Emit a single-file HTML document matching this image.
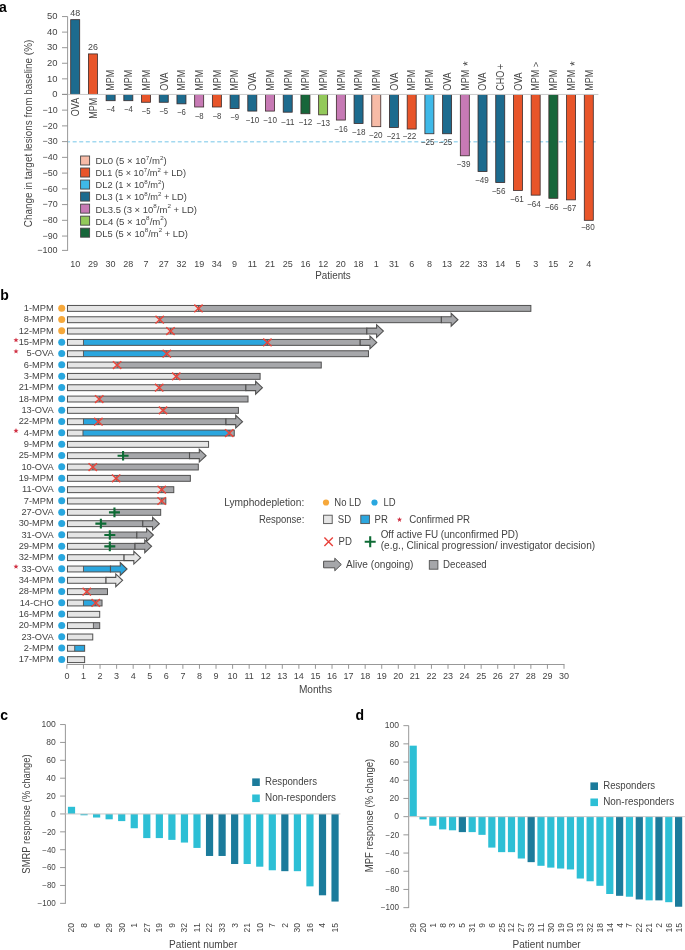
<!DOCTYPE html>
<html><head><meta charset="utf-8"><style>
html,body{margin:0;padding:0;background:#fff;}
body{width:685px;height:950px;overflow:hidden;}
svg{display:block;font-family:"Liberation Sans", sans-serif;will-change:transform;}
</style></head><body>
<svg width="685" height="950" viewBox="0 0 685 950">
<rect x="0" y="0" width="685" height="950" fill="#fff"/>
<text x="-1.00" y="11.60" font-size="14" text-anchor="start" fill="#000" font-weight="bold">a</text>
<text x="31.70" y="133.45" font-size="10.2" text-anchor="middle" fill="#444444" font-weight="normal" transform="rotate(-90 31.7 133.45)" textLength="187.5" lengthAdjust="spacingAndGlyphs">Change in target lesions from baseline (%)</text>
<line x1="62" y1="16.55" x2="67.6" y2="16.55" stroke="#8c8c8c" stroke-width="0.9"/>
<text x="57.60" y="19.25" font-size="9" text-anchor="end" fill="#444444" font-weight="normal" textLength="10.50" lengthAdjust="spacingAndGlyphs">50</text>
<line x1="62" y1="32.12" x2="67.6" y2="32.12" stroke="#8c8c8c" stroke-width="0.9"/>
<text x="57.60" y="34.82" font-size="9" text-anchor="end" fill="#444444" font-weight="normal" textLength="10.50" lengthAdjust="spacingAndGlyphs">40</text>
<line x1="62" y1="47.69" x2="67.6" y2="47.69" stroke="#8c8c8c" stroke-width="0.9"/>
<text x="57.60" y="50.39" font-size="9" text-anchor="end" fill="#444444" font-weight="normal" textLength="10.50" lengthAdjust="spacingAndGlyphs">30</text>
<line x1="62" y1="63.26" x2="67.6" y2="63.26" stroke="#8c8c8c" stroke-width="0.9"/>
<text x="57.60" y="65.96" font-size="9" text-anchor="end" fill="#444444" font-weight="normal" textLength="10.50" lengthAdjust="spacingAndGlyphs">20</text>
<line x1="62" y1="78.83" x2="67.6" y2="78.83" stroke="#8c8c8c" stroke-width="0.9"/>
<text x="57.60" y="81.53" font-size="9" text-anchor="end" fill="#444444" font-weight="normal" textLength="10.50" lengthAdjust="spacingAndGlyphs">10</text>
<line x1="62" y1="94.40" x2="67.6" y2="94.40" stroke="#8c8c8c" stroke-width="0.9"/>
<text x="57.60" y="97.10" font-size="9" text-anchor="end" fill="#444444" font-weight="normal" textLength="5.25" lengthAdjust="spacingAndGlyphs">0</text>
<line x1="62" y1="110.14" x2="67.6" y2="110.14" stroke="#8c8c8c" stroke-width="0.9"/>
<text x="57.60" y="112.84" font-size="9" text-anchor="end" fill="#444444" font-weight="normal" textLength="15.10" lengthAdjust="spacingAndGlyphs">&#8722;10</text>
<line x1="62" y1="125.88" x2="67.6" y2="125.88" stroke="#8c8c8c" stroke-width="0.9"/>
<text x="57.60" y="128.58" font-size="9" text-anchor="end" fill="#444444" font-weight="normal" textLength="15.10" lengthAdjust="spacingAndGlyphs">&#8722;20</text>
<line x1="62" y1="141.62" x2="67.6" y2="141.62" stroke="#8c8c8c" stroke-width="0.9"/>
<text x="57.60" y="144.32" font-size="9" text-anchor="end" fill="#444444" font-weight="normal" textLength="15.10" lengthAdjust="spacingAndGlyphs">&#8722;30</text>
<line x1="62" y1="157.36" x2="67.6" y2="157.36" stroke="#8c8c8c" stroke-width="0.9"/>
<text x="57.60" y="160.06" font-size="9" text-anchor="end" fill="#444444" font-weight="normal" textLength="15.10" lengthAdjust="spacingAndGlyphs">&#8722;40</text>
<line x1="62" y1="173.10" x2="67.6" y2="173.10" stroke="#8c8c8c" stroke-width="0.9"/>
<text x="57.60" y="175.80" font-size="9" text-anchor="end" fill="#444444" font-weight="normal" textLength="15.10" lengthAdjust="spacingAndGlyphs">&#8722;50</text>
<line x1="62" y1="188.84" x2="67.6" y2="188.84" stroke="#8c8c8c" stroke-width="0.9"/>
<text x="57.60" y="191.54" font-size="9" text-anchor="end" fill="#444444" font-weight="normal" textLength="15.10" lengthAdjust="spacingAndGlyphs">&#8722;60</text>
<line x1="62" y1="204.58" x2="67.6" y2="204.58" stroke="#8c8c8c" stroke-width="0.9"/>
<text x="57.60" y="207.28" font-size="9" text-anchor="end" fill="#444444" font-weight="normal" textLength="15.10" lengthAdjust="spacingAndGlyphs">&#8722;70</text>
<line x1="62" y1="220.32" x2="67.6" y2="220.32" stroke="#8c8c8c" stroke-width="0.9"/>
<text x="57.60" y="223.02" font-size="9" text-anchor="end" fill="#444444" font-weight="normal" textLength="15.10" lengthAdjust="spacingAndGlyphs">&#8722;80</text>
<line x1="62" y1="236.06" x2="67.6" y2="236.06" stroke="#8c8c8c" stroke-width="0.9"/>
<text x="57.60" y="238.76" font-size="9" text-anchor="end" fill="#444444" font-weight="normal" textLength="15.10" lengthAdjust="spacingAndGlyphs">&#8722;90</text>
<line x1="62" y1="250.40" x2="67.6" y2="250.40" stroke="#8c8c8c" stroke-width="0.9"/>
<text x="57.60" y="253.10" font-size="9" text-anchor="end" fill="#444444" font-weight="normal" textLength="20.35" lengthAdjust="spacingAndGlyphs">&#8722;100</text>
<line x1="67.6" y1="16.55" x2="67.6" y2="250.80" stroke="#8c8c8c" stroke-width="0.9"/>
<line x1="68" y1="141.7" x2="596" y2="141.7" stroke="#a3d9f0" stroke-width="1.5" stroke-dasharray="4,2.57" stroke-dashoffset="1.9"/>
<rect x="70.70" y="19.66" width="9.0" height="74.74" fill="#1d6b8e" stroke="#3a2a2a" stroke-width="0.8"/>
<text x="75.20" y="15.86" font-size="8.8" text-anchor="middle" fill="#444444" font-weight="normal" textLength="9.90" lengthAdjust="spacingAndGlyphs">48</text>
<text x="79.00" y="97.80" font-size="10.3" text-anchor="end" fill="#444444" font-weight="normal" transform="rotate(-90 79.0 97.8)" textLength="18.34" lengthAdjust="spacingAndGlyphs">OVA</text>
<text x="75.20" y="267.00" font-size="9" text-anchor="middle" fill="#444444" font-weight="normal">10</text>
<rect x="88.41" y="53.92" width="9.0" height="40.48" fill="#e8552a" stroke="#3a2a2a" stroke-width="0.8"/>
<text x="92.91" y="50.12" font-size="8.8" text-anchor="middle" fill="#444444" font-weight="normal" textLength="9.90" lengthAdjust="spacingAndGlyphs">26</text>
<text x="96.71" y="97.80" font-size="10.3" text-anchor="end" fill="#444444" font-weight="normal" transform="rotate(-90 96.71 97.8)" textLength="21.00" lengthAdjust="spacingAndGlyphs">MPM</text>
<text x="92.91" y="267.00" font-size="9" text-anchor="middle" fill="#444444" font-weight="normal">29</text>
<rect x="106.12" y="94.40" width="9.0" height="6.30" fill="#1d6b8e" stroke="#3a2a2a" stroke-width="0.8"/>
<text x="110.62" y="112.30" font-size="8.8" text-anchor="middle" fill="#444444" font-weight="normal" textLength="8.85" lengthAdjust="spacingAndGlyphs">&#8722;4</text>
<text x="114.42" y="90.80" font-size="10.3" text-anchor="start" fill="#444444" font-weight="normal" transform="rotate(-90 114.42 90.8)" textLength="21.00" lengthAdjust="spacingAndGlyphs">MPM</text>
<text x="110.62" y="267.00" font-size="9" text-anchor="middle" fill="#444444" font-weight="normal">30</text>
<rect x="123.83" y="94.40" width="9.0" height="6.30" fill="#1d6b8e" stroke="#3a2a2a" stroke-width="0.8"/>
<text x="128.33" y="112.30" font-size="8.8" text-anchor="middle" fill="#444444" font-weight="normal" textLength="8.85" lengthAdjust="spacingAndGlyphs">&#8722;4</text>
<text x="132.13" y="90.80" font-size="10.3" text-anchor="start" fill="#444444" font-weight="normal" transform="rotate(-90 132.13000000000002 90.8)" textLength="21.00" lengthAdjust="spacingAndGlyphs">MPM</text>
<text x="128.33" y="267.00" font-size="9" text-anchor="middle" fill="#444444" font-weight="normal">28</text>
<rect x="141.54" y="94.40" width="9.0" height="7.87" fill="#e8552a" stroke="#3a2a2a" stroke-width="0.8"/>
<text x="146.04" y="114.47" font-size="8.8" text-anchor="middle" fill="#444444" font-weight="normal" textLength="8.85" lengthAdjust="spacingAndGlyphs">&#8722;5</text>
<text x="149.84" y="90.80" font-size="10.3" text-anchor="start" fill="#444444" font-weight="normal" transform="rotate(-90 149.84000000000003 90.8)" textLength="21.00" lengthAdjust="spacingAndGlyphs">MPM</text>
<text x="146.04" y="267.00" font-size="9" text-anchor="middle" fill="#444444" font-weight="normal">7</text>
<rect x="159.25" y="94.40" width="9.0" height="7.87" fill="#1d6b8e" stroke="#3a2a2a" stroke-width="0.8"/>
<text x="163.75" y="114.47" font-size="8.8" text-anchor="middle" fill="#444444" font-weight="normal" textLength="8.85" lengthAdjust="spacingAndGlyphs">&#8722;5</text>
<text x="167.55" y="90.80" font-size="10.3" text-anchor="start" fill="#444444" font-weight="normal" transform="rotate(-90 167.55 90.8)" textLength="18.34" lengthAdjust="spacingAndGlyphs">OVA</text>
<text x="163.75" y="267.00" font-size="9" text-anchor="middle" fill="#444444" font-weight="normal">27</text>
<rect x="176.96" y="94.40" width="9.0" height="9.44" fill="#1d6b8e" stroke="#3a2a2a" stroke-width="0.8"/>
<text x="181.46" y="115.44" font-size="8.8" text-anchor="middle" fill="#444444" font-weight="normal" textLength="8.85" lengthAdjust="spacingAndGlyphs">&#8722;6</text>
<text x="185.26" y="90.80" font-size="10.3" text-anchor="start" fill="#444444" font-weight="normal" transform="rotate(-90 185.26000000000002 90.8)" textLength="21.00" lengthAdjust="spacingAndGlyphs">MPM</text>
<text x="181.46" y="267.00" font-size="9" text-anchor="middle" fill="#444444" font-weight="normal">32</text>
<rect x="194.67" y="94.40" width="9.0" height="12.59" fill="#c77ab5" stroke="#3a2a2a" stroke-width="0.8"/>
<text x="199.17" y="118.59" font-size="8.8" text-anchor="middle" fill="#444444" font-weight="normal" textLength="8.85" lengthAdjust="spacingAndGlyphs">&#8722;8</text>
<text x="202.97" y="90.80" font-size="10.3" text-anchor="start" fill="#444444" font-weight="normal" transform="rotate(-90 202.97000000000003 90.8)" textLength="21.00" lengthAdjust="spacingAndGlyphs">MPM</text>
<text x="199.17" y="267.00" font-size="9" text-anchor="middle" fill="#444444" font-weight="normal">19</text>
<rect x="212.38" y="94.40" width="9.0" height="12.59" fill="#e8552a" stroke="#3a2a2a" stroke-width="0.8"/>
<text x="216.88" y="118.59" font-size="8.8" text-anchor="middle" fill="#444444" font-weight="normal" textLength="8.85" lengthAdjust="spacingAndGlyphs">&#8722;8</text>
<text x="220.68" y="90.80" font-size="10.3" text-anchor="start" fill="#444444" font-weight="normal" transform="rotate(-90 220.68 90.8)" textLength="21.00" lengthAdjust="spacingAndGlyphs">MPM</text>
<text x="216.88" y="267.00" font-size="9" text-anchor="middle" fill="#444444" font-weight="normal">34</text>
<rect x="230.09" y="94.40" width="9.0" height="14.17" fill="#1d6b8e" stroke="#3a2a2a" stroke-width="0.8"/>
<text x="234.59" y="119.57" font-size="8.8" text-anchor="middle" fill="#444444" font-weight="normal" textLength="8.85" lengthAdjust="spacingAndGlyphs">&#8722;9</text>
<text x="238.39" y="90.80" font-size="10.3" text-anchor="start" fill="#444444" font-weight="normal" transform="rotate(-90 238.39000000000004 90.8)" textLength="21.00" lengthAdjust="spacingAndGlyphs">MPM</text>
<text x="234.59" y="267.00" font-size="9" text-anchor="middle" fill="#444444" font-weight="normal">9</text>
<rect x="247.80" y="94.40" width="9.0" height="16.68" fill="#1d6b8e" stroke="#3a2a2a" stroke-width="0.8"/>
<text x="252.30" y="123.28" font-size="8.8" text-anchor="middle" fill="#444444" font-weight="normal" textLength="13.80" lengthAdjust="spacingAndGlyphs">&#8722;10</text>
<text x="256.10" y="90.80" font-size="10.3" text-anchor="start" fill="#444444" font-weight="normal" transform="rotate(-90 256.1 90.8)" textLength="18.34" lengthAdjust="spacingAndGlyphs">OVA</text>
<text x="252.30" y="267.00" font-size="9" text-anchor="middle" fill="#444444" font-weight="normal">11</text>
<rect x="265.51" y="94.40" width="9.0" height="16.68" fill="#c77ab5" stroke="#3a2a2a" stroke-width="0.8"/>
<text x="270.01" y="123.28" font-size="8.8" text-anchor="middle" fill="#444444" font-weight="normal" textLength="13.80" lengthAdjust="spacingAndGlyphs">&#8722;10</text>
<text x="273.81" y="90.80" font-size="10.3" text-anchor="start" fill="#444444" font-weight="normal" transform="rotate(-90 273.81 90.8)" textLength="21.00" lengthAdjust="spacingAndGlyphs">MPM</text>
<text x="270.01" y="267.00" font-size="9" text-anchor="middle" fill="#444444" font-weight="normal">21</text>
<rect x="283.22" y="94.40" width="9.0" height="17.79" fill="#1d6b8e" stroke="#3a2a2a" stroke-width="0.8"/>
<text x="287.72" y="124.59" font-size="8.8" text-anchor="middle" fill="#444444" font-weight="normal" textLength="13.80" lengthAdjust="spacingAndGlyphs">&#8722;11</text>
<text x="291.52" y="90.80" font-size="10.3" text-anchor="start" fill="#444444" font-weight="normal" transform="rotate(-90 291.52000000000004 90.8)" textLength="21.00" lengthAdjust="spacingAndGlyphs">MPM</text>
<text x="287.72" y="267.00" font-size="9" text-anchor="middle" fill="#444444" font-weight="normal">25</text>
<rect x="300.93" y="94.40" width="9.0" height="19.36" fill="#17663a" stroke="#3a2a2a" stroke-width="0.8"/>
<text x="305.43" y="125.36" font-size="8.8" text-anchor="middle" fill="#444444" font-weight="normal" textLength="13.80" lengthAdjust="spacingAndGlyphs">&#8722;12</text>
<text x="309.23" y="90.80" font-size="10.3" text-anchor="start" fill="#444444" font-weight="normal" transform="rotate(-90 309.23 90.8)" textLength="21.00" lengthAdjust="spacingAndGlyphs">MPM</text>
<text x="305.43" y="267.00" font-size="9" text-anchor="middle" fill="#444444" font-weight="normal">16</text>
<rect x="318.64" y="94.40" width="9.0" height="20.46" fill="#93c95a" stroke="#3a2a2a" stroke-width="0.8"/>
<text x="323.14" y="126.46" font-size="8.8" text-anchor="middle" fill="#444444" font-weight="normal" textLength="13.80" lengthAdjust="spacingAndGlyphs">&#8722;13</text>
<text x="326.94" y="90.80" font-size="10.3" text-anchor="start" fill="#444444" font-weight="normal" transform="rotate(-90 326.94 90.8)" textLength="21.00" lengthAdjust="spacingAndGlyphs">MPM</text>
<text x="323.14" y="267.00" font-size="9" text-anchor="middle" fill="#444444" font-weight="normal">12</text>
<rect x="336.35" y="94.40" width="9.0" height="25.66" fill="#c77ab5" stroke="#3a2a2a" stroke-width="0.8"/>
<text x="340.85" y="131.66" font-size="8.8" text-anchor="middle" fill="#444444" font-weight="normal" textLength="13.80" lengthAdjust="spacingAndGlyphs">&#8722;16</text>
<text x="344.65" y="90.80" font-size="10.3" text-anchor="start" fill="#444444" font-weight="normal" transform="rotate(-90 344.65000000000003 90.8)" textLength="21.00" lengthAdjust="spacingAndGlyphs">MPM</text>
<text x="340.85" y="267.00" font-size="9" text-anchor="middle" fill="#444444" font-weight="normal">20</text>
<rect x="354.06" y="94.40" width="9.0" height="29.12" fill="#1d6b8e" stroke="#3a2a2a" stroke-width="0.8"/>
<text x="358.56" y="135.12" font-size="8.8" text-anchor="middle" fill="#444444" font-weight="normal" textLength="13.80" lengthAdjust="spacingAndGlyphs">&#8722;18</text>
<text x="362.36" y="90.80" font-size="10.3" text-anchor="start" fill="#444444" font-weight="normal" transform="rotate(-90 362.36 90.8)" textLength="21.00" lengthAdjust="spacingAndGlyphs">MPM</text>
<text x="358.56" y="267.00" font-size="9" text-anchor="middle" fill="#444444" font-weight="normal">18</text>
<rect x="371.77" y="94.40" width="9.0" height="32.27" fill="#f7bba7" stroke="#3a2a2a" stroke-width="0.8"/>
<text x="375.57" y="138.27" font-size="8.8" text-anchor="middle" fill="#444444" font-weight="normal" textLength="13.80" lengthAdjust="spacingAndGlyphs">&#8722;20</text>
<text x="380.07" y="90.80" font-size="10.3" text-anchor="start" fill="#444444" font-weight="normal" transform="rotate(-90 380.07 90.8)" textLength="21.00" lengthAdjust="spacingAndGlyphs">MPM</text>
<text x="376.27" y="267.00" font-size="9" text-anchor="middle" fill="#444444" font-weight="normal">1</text>
<rect x="389.48" y="94.40" width="9.0" height="33.05" fill="#1d6b8e" stroke="#3a2a2a" stroke-width="0.8"/>
<text x="393.28" y="139.05" font-size="8.8" text-anchor="middle" fill="#444444" font-weight="normal" textLength="13.80" lengthAdjust="spacingAndGlyphs">&#8722;21</text>
<text x="397.78" y="90.80" font-size="10.3" text-anchor="start" fill="#444444" font-weight="normal" transform="rotate(-90 397.78000000000003 90.8)" textLength="18.34" lengthAdjust="spacingAndGlyphs">OVA</text>
<text x="393.98" y="267.00" font-size="9" text-anchor="middle" fill="#444444" font-weight="normal">31</text>
<rect x="407.19" y="94.40" width="9.0" height="34.63" fill="#e8552a" stroke="#3a2a2a" stroke-width="0.8"/>
<text x="409.39" y="139.03" font-size="8.8" text-anchor="middle" fill="#444444" font-weight="normal" textLength="13.80" lengthAdjust="spacingAndGlyphs">&#8722;22</text>
<text x="415.49" y="90.80" font-size="10.3" text-anchor="start" fill="#444444" font-weight="normal" transform="rotate(-90 415.49 90.8)" textLength="21.00" lengthAdjust="spacingAndGlyphs">MPM</text>
<text x="411.69" y="267.00" font-size="9" text-anchor="middle" fill="#444444" font-weight="normal">6</text>
<rect x="424.90" y="94.40" width="9.0" height="39.35" fill="#3fb9e8" stroke="#3a2a2a" stroke-width="0.8"/>
<text x="427.70" y="144.75" font-size="8.8" text-anchor="middle" fill="#444444" font-weight="normal" textLength="13.80" lengthAdjust="spacingAndGlyphs">&#8722;25</text>
<text x="433.20" y="90.80" font-size="10.3" text-anchor="start" fill="#444444" font-weight="normal" transform="rotate(-90 433.20000000000005 90.8)" textLength="21.00" lengthAdjust="spacingAndGlyphs">MPM</text>
<text x="429.40" y="267.00" font-size="9" text-anchor="middle" fill="#444444" font-weight="normal">8</text>
<rect x="442.61" y="94.40" width="9.0" height="39.35" fill="#1d6b8e" stroke="#3a2a2a" stroke-width="0.8"/>
<text x="445.41" y="144.75" font-size="8.8" text-anchor="middle" fill="#444444" font-weight="normal" textLength="13.80" lengthAdjust="spacingAndGlyphs">&#8722;25</text>
<text x="450.91" y="90.80" font-size="10.3" text-anchor="start" fill="#444444" font-weight="normal" transform="rotate(-90 450.91 90.8)" textLength="18.34" lengthAdjust="spacingAndGlyphs">OVA</text>
<text x="447.11" y="267.00" font-size="9" text-anchor="middle" fill="#444444" font-weight="normal">13</text>
<rect x="460.32" y="94.40" width="9.0" height="61.39" fill="#c77ab5" stroke="#3a2a2a" stroke-width="0.8"/>
<text x="463.52" y="167.39" font-size="8.8" text-anchor="middle" fill="#444444" font-weight="normal" textLength="13.80" lengthAdjust="spacingAndGlyphs">&#8722;39</text>
<text x="468.62" y="90.80" font-size="10.3" text-anchor="start" fill="#444444" font-weight="normal" transform="rotate(-90 468.62 90.8)" textLength="21.00" lengthAdjust="spacingAndGlyphs">MPM</text>
<text x="472.32" y="66.00" font-size="12" text-anchor="start" fill="#444444" font-weight="normal" transform="rotate(-90 472.32 66.001875)">*</text>
<text x="464.82" y="267.00" font-size="9" text-anchor="middle" fill="#444444" font-weight="normal">22</text>
<rect x="478.03" y="94.40" width="9.0" height="77.13" fill="#1d6b8e" stroke="#3a2a2a" stroke-width="0.8"/>
<text x="481.93" y="183.13" font-size="8.8" text-anchor="middle" fill="#444444" font-weight="normal" textLength="13.80" lengthAdjust="spacingAndGlyphs">&#8722;49</text>
<text x="486.33" y="90.80" font-size="10.3" text-anchor="start" fill="#444444" font-weight="normal" transform="rotate(-90 486.33000000000004 90.8)" textLength="18.34" lengthAdjust="spacingAndGlyphs">OVA</text>
<text x="482.53" y="267.00" font-size="9" text-anchor="middle" fill="#444444" font-weight="normal">33</text>
<rect x="495.74" y="94.40" width="9.0" height="88.14" fill="#1d6b8e" stroke="#3a2a2a" stroke-width="0.8"/>
<text x="498.54" y="194.14" font-size="8.8" text-anchor="middle" fill="#444444" font-weight="normal" textLength="13.80" lengthAdjust="spacingAndGlyphs">&#8722;56</text>
<text x="504.04" y="90.80" font-size="10.3" text-anchor="start" fill="#444444" font-weight="normal" transform="rotate(-90 504.04 90.8)" textLength="20.00" lengthAdjust="spacingAndGlyphs">CHO</text>
<text x="504.04" y="69.80" font-size="10.3" text-anchor="start" fill="#444444" font-weight="normal" transform="rotate(-90 504.04 69.80031249999999)">+</text>
<text x="500.24" y="267.00" font-size="9" text-anchor="middle" fill="#444444" font-weight="normal">14</text>
<rect x="513.45" y="94.40" width="9.0" height="96.01" fill="#e8552a" stroke="#3a2a2a" stroke-width="0.8"/>
<text x="516.85" y="202.01" font-size="8.8" text-anchor="middle" fill="#444444" font-weight="normal" textLength="13.80" lengthAdjust="spacingAndGlyphs">&#8722;61</text>
<text x="521.75" y="90.80" font-size="10.3" text-anchor="start" fill="#444444" font-weight="normal" transform="rotate(-90 521.75 90.8)" textLength="18.34" lengthAdjust="spacingAndGlyphs">OVA</text>
<text x="517.95" y="267.00" font-size="9" text-anchor="middle" fill="#444444" font-weight="normal">5</text>
<rect x="531.16" y="94.40" width="9.0" height="100.74" fill="#e8552a" stroke="#3a2a2a" stroke-width="0.8"/>
<text x="533.96" y="206.74" font-size="8.8" text-anchor="middle" fill="#444444" font-weight="normal" textLength="13.80" lengthAdjust="spacingAndGlyphs">&#8722;64</text>
<text x="539.46" y="90.80" font-size="10.3" text-anchor="start" fill="#444444" font-weight="normal" transform="rotate(-90 539.46 90.8)" textLength="21.00" lengthAdjust="spacingAndGlyphs">MPM</text>
<text x="539.46" y="67.20" font-size="9.5" text-anchor="start" fill="#444444" font-weight="normal" transform="rotate(-90 539.46 67.201875)">&gt;</text>
<text x="535.66" y="267.00" font-size="9" text-anchor="middle" fill="#444444" font-weight="normal">3</text>
<rect x="548.87" y="94.40" width="9.0" height="103.88" fill="#17663a" stroke="#3a2a2a" stroke-width="0.8"/>
<text x="551.57" y="209.88" font-size="8.8" text-anchor="middle" fill="#444444" font-weight="normal" textLength="13.80" lengthAdjust="spacingAndGlyphs">&#8722;66</text>
<text x="557.17" y="90.80" font-size="10.3" text-anchor="start" fill="#444444" font-weight="normal" transform="rotate(-90 557.17 90.8)" textLength="21.00" lengthAdjust="spacingAndGlyphs">MPM</text>
<text x="553.37" y="267.00" font-size="9" text-anchor="middle" fill="#444444" font-weight="normal">15</text>
<rect x="566.58" y="94.40" width="9.0" height="105.46" fill="#e8552a" stroke="#3a2a2a" stroke-width="0.8"/>
<text x="569.48" y="211.46" font-size="8.8" text-anchor="middle" fill="#444444" font-weight="normal" textLength="13.80" lengthAdjust="spacingAndGlyphs">&#8722;67</text>
<text x="574.88" y="90.80" font-size="10.3" text-anchor="start" fill="#444444" font-weight="normal" transform="rotate(-90 574.88 90.8)" textLength="21.00" lengthAdjust="spacingAndGlyphs">MPM</text>
<text x="578.58" y="66.00" font-size="12" text-anchor="start" fill="#444444" font-weight="normal" transform="rotate(-90 578.58 66.001875)">*</text>
<text x="571.08" y="267.00" font-size="9" text-anchor="middle" fill="#444444" font-weight="normal">2</text>
<rect x="584.29" y="94.40" width="9.0" height="125.92" fill="#e8552a" stroke="#3a2a2a" stroke-width="0.8"/>
<text x="587.79" y="230.12" font-size="8.8" text-anchor="middle" fill="#444444" font-weight="normal" textLength="13.80" lengthAdjust="spacingAndGlyphs">&#8722;80</text>
<text x="592.59" y="90.80" font-size="10.3" text-anchor="start" fill="#444444" font-weight="normal" transform="rotate(-90 592.59 90.8)" textLength="21.00" lengthAdjust="spacingAndGlyphs">MPM</text>
<text x="588.79" y="267.00" font-size="9" text-anchor="middle" fill="#444444" font-weight="normal">4</text>
<line x1="67.6" y1="94.45" x2="598.4" y2="94.45" stroke="#c9c9c9" stroke-width="1"/>
<line x1="62" y1="94.45" x2="67.6" y2="94.45" stroke="#8c8c8c" stroke-width="0.9"/>
<text x="333.00" y="279.20" font-size="10.3" text-anchor="middle" fill="#444444" font-weight="normal" textLength="35.6" lengthAdjust="spacingAndGlyphs">Patients</text>
<rect x="80.6" y="156.00" width="9" height="9" fill="#f7bba7" stroke="#444" stroke-width="0.9"/>
<text x="95.60" y="164.40" font-size="9.4" text-anchor="start" fill="#444444" font-weight="normal" textLength="71.0" lengthAdjust="spacingAndGlyphs">DL0 (5 &#215; 10<tspan dy="-4.3" font-size="6.2">7</tspan><tspan dy="4.3">/m</tspan><tspan dy="-4.3" font-size="6.2">2</tspan><tspan dy="4.3">)</tspan></text>
<rect x="80.6" y="168.03" width="9" height="9" fill="#e8552a" stroke="#444" stroke-width="0.9"/>
<text x="95.60" y="176.43" font-size="9.4" text-anchor="start" fill="#444444" font-weight="normal" textLength="90.4" lengthAdjust="spacingAndGlyphs">DL1 (5 &#215; 10<tspan dy="-4.3" font-size="6.2">7</tspan><tspan dy="4.3">/m</tspan><tspan dy="-4.3" font-size="6.2">2</tspan><tspan dy="4.3"> + LD)</tspan></text>
<rect x="80.6" y="180.06" width="9" height="9" fill="#3fb9e8" stroke="#444" stroke-width="0.9"/>
<text x="95.60" y="188.46" font-size="9.4" text-anchor="start" fill="#444444" font-weight="normal" textLength="68.9" lengthAdjust="spacingAndGlyphs">DL2 (1 &#215; 10<tspan dy="-4.3" font-size="6.2">8</tspan><tspan dy="4.3">/m</tspan><tspan dy="-4.3" font-size="6.2">2</tspan><tspan dy="4.3">)</tspan></text>
<rect x="80.6" y="192.09" width="9" height="9" fill="#1d6b8e" stroke="#444" stroke-width="0.9"/>
<text x="95.60" y="200.49" font-size="9.4" text-anchor="start" fill="#444444" font-weight="normal" textLength="91.2" lengthAdjust="spacingAndGlyphs">DL3 (1 &#215; 10<tspan dy="-4.3" font-size="6.2">8</tspan><tspan dy="4.3">/m</tspan><tspan dy="-4.3" font-size="6.2">2</tspan><tspan dy="4.3"> + LD)</tspan></text>
<rect x="80.6" y="204.12" width="9" height="9" fill="#c77ab5" stroke="#444" stroke-width="0.9"/>
<text x="95.60" y="212.52" font-size="9.4" text-anchor="start" fill="#444444" font-weight="normal" textLength="101.4" lengthAdjust="spacingAndGlyphs">DL3.5 (3 &#215; 10<tspan dy="-4.3" font-size="6.2">8</tspan><tspan dy="4.3">/m</tspan><tspan dy="-4.3" font-size="6.2">2</tspan><tspan dy="4.3"> + LD)</tspan></text>
<rect x="80.6" y="216.15" width="9" height="9" fill="#93c95a" stroke="#444" stroke-width="0.9"/>
<text x="95.60" y="224.55" font-size="9.4" text-anchor="start" fill="#444444" font-weight="normal" textLength="71.5" lengthAdjust="spacingAndGlyphs">DL4 (5 &#215; 10<tspan dy="-4.3" font-size="6.2">8</tspan><tspan dy="4.3">/m</tspan><tspan dy="-4.3" font-size="6.2">2</tspan><tspan dy="4.3">)</tspan></text>
<rect x="80.6" y="228.18" width="9" height="9" fill="#17663a" stroke="#444" stroke-width="0.9"/>
<text x="95.60" y="236.58" font-size="9.4" text-anchor="start" fill="#444444" font-weight="normal" textLength="92.3" lengthAdjust="spacingAndGlyphs">DL5 (5 &#215; 10<tspan dy="-4.3" font-size="6.2">8</tspan><tspan dy="4.3">/m</tspan><tspan dy="-4.3" font-size="6.2">2</tspan><tspan dy="4.3"> + LD)</tspan></text>
<text x="0.30" y="299.70" font-size="14" text-anchor="start" fill="#000" font-weight="bold">b</text>
<text x="53.80" y="311.00" font-size="9.7" text-anchor="end" fill="#444444" font-weight="normal" textLength="29.97" lengthAdjust="spacingAndGlyphs">1-MPM</text>
<circle cx="61.7" cy="308.20" r="3.5" fill="#f6a83b"/>
<rect x="67.48" y="305.45" width="130.99" height="5.9" fill="#e5e5e5"/>
<rect x="198.47" y="305.45" width="332.39" height="5.9" fill="#a6a7aa"/>
<rect x="67.48" y="305.45" width="463.38" height="5.9" fill="none" stroke="#505050" stroke-width="1.0"/>
<line x1="198.47" y1="305.45" x2="198.47" y2="311.35" stroke="#505050" stroke-width="0.9"/>
<path d="M194.27,304.60 L202.67,312.20 M202.67,304.60 L194.27,312.20" stroke="#e8463c" stroke-width="1.5" fill="none"/>
<text x="53.80" y="322.33" font-size="9.7" text-anchor="end" fill="#444444" font-weight="normal" textLength="29.97" lengthAdjust="spacingAndGlyphs">8-MPM</text>
<circle cx="61.7" cy="319.53" r="3.5" fill="#f6a83b"/>
<rect x="67.48" y="316.78" width="92.21" height="5.9" fill="#e5e5e5"/>
<rect x="159.69" y="316.78" width="281.69" height="5.9" fill="#a6a7aa"/>
<rect x="67.48" y="316.78" width="373.90" height="5.9" fill="none" stroke="#505050" stroke-width="1.0"/>
<line x1="159.69" y1="316.78" x2="159.69" y2="322.68" stroke="#505050" stroke-width="0.9"/>
<path d="M441.38,316.78 L451.15,316.78 L451.15,313.33 L457.95,319.73 L451.15,326.13 L451.15,322.68 L441.38,322.68 Z" fill="#a6a7aa" stroke="#505050" stroke-width="1.1" stroke-linejoin="miter"/>
<path d="M155.49,315.93 L163.89,323.53 M163.89,315.93 L155.49,323.53" stroke="#e8463c" stroke-width="1.5" fill="none"/>
<text x="53.80" y="333.66" font-size="9.7" text-anchor="end" fill="#444444" font-weight="normal" textLength="35.14" lengthAdjust="spacingAndGlyphs">12-MPM</text>
<circle cx="61.7" cy="330.86" r="3.5" fill="#f6a83b"/>
<rect x="67.48" y="328.11" width="102.98" height="5.9" fill="#e5e5e5"/>
<rect x="170.46" y="328.11" width="196.35" height="5.9" fill="#a6a7aa"/>
<rect x="67.48" y="328.11" width="299.34" height="5.9" fill="none" stroke="#505050" stroke-width="1.0"/>
<line x1="170.46" y1="328.11" x2="170.46" y2="334.01" stroke="#505050" stroke-width="0.9"/>
<path d="M366.82,328.11 L376.59,328.11 L376.59,324.66 L383.39,331.06 L376.59,337.46 L376.59,334.01 L366.82,334.01 Z" fill="#a6a7aa" stroke="#505050" stroke-width="1.1" stroke-linejoin="miter"/>
<path d="M166.26,327.26 L174.66,334.86 M174.66,327.26 L166.26,334.86" stroke="#e8463c" stroke-width="1.5" fill="none"/>
<text x="53.80" y="344.99" font-size="9.7" text-anchor="end" fill="#444444" font-weight="normal" textLength="35.14" lengthAdjust="spacingAndGlyphs">15-MPM</text>
<polygon points="16.00,337.39 16.68,339.16 18.57,339.26 17.09,340.45 17.59,342.27 16.00,341.24 14.41,342.27 14.91,340.45 13.43,339.26 15.32,339.16" fill="#d02f42"/>
<circle cx="61.7" cy="342.19" r="3.5" fill="#29a7df"/>
<rect x="67.48" y="339.44" width="15.99" height="5.9" fill="#e5e5e5"/>
<rect x="83.47" y="339.44" width="183.93" height="5.9" fill="#2ba6de"/>
<rect x="267.40" y="339.44" width="92.79" height="5.9" fill="#a6a7aa"/>
<rect x="67.48" y="339.44" width="292.71" height="5.9" fill="none" stroke="#505050" stroke-width="1.0"/>
<line x1="83.47" y1="339.44" x2="83.47" y2="345.34" stroke="#505050" stroke-width="0.9"/>
<line x1="267.40" y1="339.44" x2="267.40" y2="345.34" stroke="#505050" stroke-width="0.9"/>
<path d="M360.19,339.44 L369.96,339.44 L369.96,335.99 L376.76,342.39 L369.96,348.79 L369.96,345.34 L360.19,345.34 Z" fill="#a6a7aa" stroke="#505050" stroke-width="1.1" stroke-linejoin="miter"/>
<path d="M263.20,338.59 L271.60,346.19 M271.60,338.59 L263.20,346.19" stroke="#e8463c" stroke-width="1.5" fill="none"/>
<text x="53.80" y="356.32" font-size="9.7" text-anchor="end" fill="#444444" font-weight="normal" textLength="27.22" lengthAdjust="spacingAndGlyphs">5-OVA</text>
<polygon points="16.00,348.72 16.68,350.49 18.57,350.59 17.09,351.78 17.59,353.60 16.00,352.57 14.41,353.60 14.91,351.78 13.43,350.59 15.32,350.49" fill="#d02f42"/>
<circle cx="61.7" cy="353.52" r="3.5" fill="#29a7df"/>
<rect x="67.48" y="350.77" width="15.99" height="5.9" fill="#e5e5e5"/>
<rect x="83.47" y="350.77" width="83.35" height="5.9" fill="#2ba6de"/>
<rect x="166.82" y="350.77" width="201.66" height="5.9" fill="#a6a7aa"/>
<rect x="67.48" y="350.77" width="300.99" height="5.9" fill="none" stroke="#505050" stroke-width="1.0"/>
<line x1="83.47" y1="350.77" x2="83.47" y2="356.67" stroke="#505050" stroke-width="0.9"/>
<line x1="166.82" y1="350.77" x2="166.82" y2="356.67" stroke="#505050" stroke-width="0.9"/>
<path d="M162.62,349.92 L171.02,357.52 M171.02,349.92 L162.62,357.52" stroke="#e8463c" stroke-width="1.5" fill="none"/>
<text x="53.80" y="367.65" font-size="9.7" text-anchor="end" fill="#444444" font-weight="normal" textLength="29.97" lengthAdjust="spacingAndGlyphs">6-MPM</text>
<circle cx="61.7" cy="364.85" r="3.5" fill="#29a7df"/>
<rect x="67.48" y="362.10" width="49.63" height="5.9" fill="#e5e5e5"/>
<rect x="117.11" y="362.10" width="204.14" height="5.9" fill="#a6a7aa"/>
<rect x="67.48" y="362.10" width="253.77" height="5.9" fill="none" stroke="#505050" stroke-width="1.0"/>
<line x1="117.11" y1="362.10" x2="117.11" y2="368.00" stroke="#505050" stroke-width="0.9"/>
<path d="M112.91,361.25 L121.31,368.85 M121.31,361.25 L112.91,368.85" stroke="#e8463c" stroke-width="1.5" fill="none"/>
<text x="53.80" y="378.98" font-size="9.7" text-anchor="end" fill="#444444" font-weight="normal" textLength="29.97" lengthAdjust="spacingAndGlyphs">3-MPM</text>
<circle cx="61.7" cy="376.18" r="3.5" fill="#29a7df"/>
<rect x="67.48" y="373.43" width="108.78" height="5.9" fill="#e5e5e5"/>
<rect x="176.26" y="373.43" width="83.84" height="5.9" fill="#a6a7aa"/>
<rect x="67.48" y="373.43" width="192.63" height="5.9" fill="none" stroke="#505050" stroke-width="1.0"/>
<line x1="176.26" y1="373.43" x2="176.26" y2="379.33" stroke="#505050" stroke-width="0.9"/>
<path d="M172.06,372.58 L180.46,380.18 M180.46,372.58 L172.06,380.18" stroke="#e8463c" stroke-width="1.5" fill="none"/>
<text x="53.80" y="390.31" font-size="9.7" text-anchor="end" fill="#444444" font-weight="normal" textLength="35.14" lengthAdjust="spacingAndGlyphs">21-MPM</text>
<circle cx="61.7" cy="387.51" r="3.5" fill="#29a7df"/>
<rect x="67.48" y="384.76" width="91.71" height="5.9" fill="#e5e5e5"/>
<rect x="159.19" y="384.76" width="86.66" height="5.9" fill="#a6a7aa"/>
<rect x="67.48" y="384.76" width="178.38" height="5.9" fill="none" stroke="#505050" stroke-width="1.0"/>
<line x1="159.19" y1="384.76" x2="159.19" y2="390.66" stroke="#505050" stroke-width="0.9"/>
<path d="M245.86,384.76 L255.63,384.76 L255.63,381.31 L262.43,387.71 L255.63,394.11 L255.63,390.66 L245.86,390.66 Z" fill="#a6a7aa" stroke="#505050" stroke-width="1.1" stroke-linejoin="miter"/>
<path d="M154.99,383.91 L163.39,391.51 M163.39,383.91 L154.99,391.51" stroke="#e8463c" stroke-width="1.5" fill="none"/>
<text x="53.80" y="401.64" font-size="9.7" text-anchor="end" fill="#444444" font-weight="normal" textLength="35.14" lengthAdjust="spacingAndGlyphs">18-MPM</text>
<circle cx="61.7" cy="398.84" r="3.5" fill="#29a7df"/>
<rect x="67.48" y="396.09" width="31.73" height="5.9" fill="#e5e5e5"/>
<rect x="99.21" y="396.09" width="148.80" height="5.9" fill="#a6a7aa"/>
<rect x="67.48" y="396.09" width="180.53" height="5.9" fill="none" stroke="#505050" stroke-width="1.0"/>
<line x1="99.21" y1="396.09" x2="99.21" y2="401.99" stroke="#505050" stroke-width="0.9"/>
<path d="M95.01,395.24 L103.41,402.84 M103.41,395.24 L95.01,402.84" stroke="#e8463c" stroke-width="1.5" fill="none"/>
<text x="53.80" y="412.97" font-size="9.7" text-anchor="end" fill="#444444" font-weight="normal" textLength="32.39" lengthAdjust="spacingAndGlyphs">13-OVA</text>
<circle cx="61.7" cy="410.17" r="3.5" fill="#29a7df"/>
<rect x="67.48" y="407.42" width="95.53" height="5.9" fill="#e5e5e5"/>
<rect x="163.01" y="407.42" width="75.39" height="5.9" fill="#a6a7aa"/>
<rect x="67.48" y="407.42" width="170.92" height="5.9" fill="none" stroke="#505050" stroke-width="1.0"/>
<line x1="163.01" y1="407.42" x2="163.01" y2="413.32" stroke="#505050" stroke-width="0.9"/>
<path d="M158.81,406.57 L167.21,414.17 M167.21,406.57 L158.81,414.17" stroke="#e8463c" stroke-width="1.5" fill="none"/>
<text x="53.80" y="424.30" font-size="9.7" text-anchor="end" fill="#444444" font-weight="normal" textLength="35.14" lengthAdjust="spacingAndGlyphs">22-MPM</text>
<circle cx="61.7" cy="421.50" r="3.5" fill="#29a7df"/>
<rect x="67.48" y="418.75" width="15.99" height="5.9" fill="#e5e5e5"/>
<rect x="83.47" y="418.75" width="14.91" height="5.9" fill="#2ba6de"/>
<rect x="98.38" y="418.75" width="127.59" height="5.9" fill="#a6a7aa"/>
<rect x="67.48" y="418.75" width="158.49" height="5.9" fill="none" stroke="#505050" stroke-width="1.0"/>
<line x1="83.47" y1="418.75" x2="83.47" y2="424.65" stroke="#505050" stroke-width="0.9"/>
<line x1="98.38" y1="418.75" x2="98.38" y2="424.65" stroke="#505050" stroke-width="0.9"/>
<path d="M225.97,418.75 L235.74,418.75 L235.74,415.30 L242.54,421.70 L235.74,428.10 L235.74,424.65 L225.97,424.65 Z" fill="#a6a7aa" stroke="#505050" stroke-width="1.1" stroke-linejoin="miter"/>
<path d="M94.18,417.90 L102.58,425.50 M102.58,417.90 L94.18,425.50" stroke="#e8463c" stroke-width="1.5" fill="none"/>
<text x="53.80" y="435.63" font-size="9.7" text-anchor="end" fill="#444444" font-weight="normal" textLength="29.97" lengthAdjust="spacingAndGlyphs">4-MPM</text>
<polygon points="16.00,428.03 16.68,429.80 18.57,429.90 17.09,431.09 17.59,432.91 16.00,431.88 14.41,432.91 14.91,431.09 13.43,429.90 15.32,429.80" fill="#d02f42"/>
<circle cx="61.7" cy="432.83" r="3.5" fill="#29a7df"/>
<rect x="67.48" y="430.08" width="15.49" height="5.9" fill="#e5e5e5"/>
<rect x="82.97" y="430.08" width="146.31" height="5.9" fill="#2ba6de"/>
<rect x="229.29" y="430.08" width="4.97" height="5.9" fill="#a6a7aa"/>
<rect x="67.48" y="430.08" width="166.78" height="5.9" fill="none" stroke="#505050" stroke-width="1.0"/>
<line x1="82.97" y1="430.08" x2="82.97" y2="435.98" stroke="#505050" stroke-width="0.9"/>
<line x1="229.29" y1="430.08" x2="229.29" y2="435.98" stroke="#505050" stroke-width="0.9"/>
<path d="M225.09,429.23 L233.49,436.83 M233.49,429.23 L225.09,436.83" stroke="#e8463c" stroke-width="1.5" fill="none"/>
<text x="53.80" y="446.96" font-size="9.7" text-anchor="end" fill="#444444" font-weight="normal" textLength="29.97" lengthAdjust="spacingAndGlyphs">9-MPM</text>
<circle cx="61.7" cy="444.16" r="3.5" fill="#29a7df"/>
<rect x="67.48" y="441.41" width="141.09" height="5.9" fill="#e5e5e5"/>
<rect x="67.48" y="441.41" width="141.09" height="5.9" fill="none" stroke="#505050" stroke-width="1.0"/>
<text x="53.80" y="458.29" font-size="9.7" text-anchor="end" fill="#444444" font-weight="normal" textLength="35.14" lengthAdjust="spacingAndGlyphs">25-MPM</text>
<circle cx="61.7" cy="455.49" r="3.5" fill="#29a7df"/>
<rect x="67.48" y="452.74" width="55.59" height="5.9" fill="#e5e5e5"/>
<rect x="123.07" y="452.74" width="66.45" height="5.9" fill="#a6a7aa"/>
<rect x="67.48" y="452.74" width="122.04" height="5.9" fill="none" stroke="#505050" stroke-width="1.0"/>
<line x1="123.07" y1="452.74" x2="123.07" y2="458.64" stroke="#505050" stroke-width="0.9"/>
<path d="M189.52,452.74 L199.29,452.74 L199.29,449.29 L206.09,455.69 L199.29,462.09 L199.29,458.64 L189.52,458.64 Z" fill="#a6a7aa" stroke="#505050" stroke-width="1.1" stroke-linejoin="miter"/>
<path d="M117.57,455.69 L128.57,455.69 M123.07,450.89 L123.07,460.49" stroke="#0e6b35" stroke-width="2.1" fill="none"/>
<text x="53.80" y="469.62" font-size="9.7" text-anchor="end" fill="#444444" font-weight="normal" textLength="32.39" lengthAdjust="spacingAndGlyphs">10-OVA</text>
<circle cx="61.7" cy="466.82" r="3.5" fill="#29a7df"/>
<rect x="67.48" y="464.07" width="25.27" height="5.9" fill="#e5e5e5"/>
<rect x="92.75" y="464.07" width="105.55" height="5.9" fill="#a6a7aa"/>
<rect x="67.48" y="464.07" width="130.82" height="5.9" fill="none" stroke="#505050" stroke-width="1.0"/>
<line x1="92.75" y1="464.07" x2="92.75" y2="469.97" stroke="#505050" stroke-width="0.9"/>
<path d="M88.55,463.22 L96.95,470.82 M96.95,463.22 L88.55,470.82" stroke="#e8463c" stroke-width="1.5" fill="none"/>
<text x="53.80" y="480.95" font-size="9.7" text-anchor="end" fill="#444444" font-weight="normal" textLength="35.14" lengthAdjust="spacingAndGlyphs">19-MPM</text>
<circle cx="61.7" cy="478.15" r="3.5" fill="#29a7df"/>
<rect x="67.48" y="475.40" width="48.63" height="5.9" fill="#e5e5e5"/>
<rect x="116.11" y="475.40" width="74.23" height="5.9" fill="#a6a7aa"/>
<rect x="67.48" y="475.40" width="122.87" height="5.9" fill="none" stroke="#505050" stroke-width="1.0"/>
<line x1="116.11" y1="475.40" x2="116.11" y2="481.30" stroke="#505050" stroke-width="0.9"/>
<path d="M111.91,474.55 L120.31,482.15 M120.31,474.55 L111.91,482.15" stroke="#e8463c" stroke-width="1.5" fill="none"/>
<text x="53.80" y="492.28" font-size="9.7" text-anchor="end" fill="#444444" font-weight="normal" textLength="31.70" lengthAdjust="spacingAndGlyphs">11-OVA</text>
<circle cx="61.7" cy="489.48" r="3.5" fill="#29a7df"/>
<rect x="67.48" y="486.73" width="94.20" height="5.9" fill="#e5e5e5"/>
<rect x="161.68" y="486.73" width="12.10" height="5.9" fill="#a6a7aa"/>
<rect x="67.48" y="486.73" width="106.30" height="5.9" fill="none" stroke="#505050" stroke-width="1.0"/>
<line x1="161.68" y1="486.73" x2="161.68" y2="492.63" stroke="#505050" stroke-width="0.9"/>
<path d="M157.48,485.88 L165.88,493.48 M165.88,485.88 L157.48,493.48" stroke="#e8463c" stroke-width="1.5" fill="none"/>
<text x="53.80" y="503.61" font-size="9.7" text-anchor="end" fill="#444444" font-weight="normal" textLength="29.97" lengthAdjust="spacingAndGlyphs">7-MPM</text>
<circle cx="61.7" cy="500.81" r="3.5" fill="#29a7df"/>
<rect x="67.48" y="498.06" width="94.20" height="5.9" fill="#e5e5e5"/>
<rect x="161.68" y="498.06" width="4.14" height="5.9" fill="#a6a7aa"/>
<rect x="67.48" y="498.06" width="98.34" height="5.9" fill="none" stroke="#505050" stroke-width="1.0"/>
<line x1="161.68" y1="498.06" x2="161.68" y2="503.96" stroke="#505050" stroke-width="0.9"/>
<path d="M157.48,497.21 L165.88,504.81 M165.88,497.21 L157.48,504.81" stroke="#e8463c" stroke-width="1.5" fill="none"/>
<text x="53.80" y="514.94" font-size="9.7" text-anchor="end" fill="#444444" font-weight="normal" textLength="32.39" lengthAdjust="spacingAndGlyphs">27-OVA</text>
<circle cx="61.7" cy="512.14" r="3.5" fill="#29a7df"/>
<rect x="67.48" y="509.39" width="46.98" height="5.9" fill="#e5e5e5"/>
<rect x="114.46" y="509.39" width="46.23" height="5.9" fill="#a6a7aa"/>
<rect x="67.48" y="509.39" width="93.21" height="5.9" fill="none" stroke="#505050" stroke-width="1.0"/>
<line x1="114.46" y1="509.39" x2="114.46" y2="515.29" stroke="#505050" stroke-width="0.9"/>
<path d="M108.96,512.34 L119.96,512.34 M114.46,507.54 L114.46,517.14" stroke="#0e6b35" stroke-width="2.1" fill="none"/>
<text x="53.80" y="526.27" font-size="9.7" text-anchor="end" fill="#444444" font-weight="normal" textLength="35.14" lengthAdjust="spacingAndGlyphs">30-MPM</text>
<circle cx="61.7" cy="523.47" r="3.5" fill="#29a7df"/>
<rect x="67.48" y="520.72" width="33.39" height="5.9" fill="#e5e5e5"/>
<rect x="100.87" y="520.72" width="41.92" height="5.9" fill="#a6a7aa"/>
<rect x="67.48" y="520.72" width="75.31" height="5.9" fill="none" stroke="#505050" stroke-width="1.0"/>
<line x1="100.87" y1="520.72" x2="100.87" y2="526.62" stroke="#505050" stroke-width="0.9"/>
<path d="M142.79,520.72 L152.56,520.72 L152.56,517.27 L159.36,523.67 L152.56,530.07 L152.56,526.62 L142.79,526.62 Z" fill="#a6a7aa" stroke="#505050" stroke-width="1.1" stroke-linejoin="miter"/>
<path d="M95.37,523.67 L106.37,523.67 M100.87,518.87 L100.87,528.47" stroke="#0e6b35" stroke-width="2.1" fill="none"/>
<text x="53.80" y="537.60" font-size="9.7" text-anchor="end" fill="#444444" font-weight="normal" textLength="32.39" lengthAdjust="spacingAndGlyphs">31-OVA</text>
<circle cx="61.7" cy="534.80" r="3.5" fill="#29a7df"/>
<rect x="67.48" y="532.05" width="42.34" height="5.9" fill="#e5e5e5"/>
<rect x="109.82" y="532.05" width="27.01" height="5.9" fill="#a6a7aa"/>
<rect x="67.48" y="532.05" width="69.35" height="5.9" fill="none" stroke="#505050" stroke-width="1.0"/>
<line x1="109.82" y1="532.05" x2="109.82" y2="537.95" stroke="#505050" stroke-width="0.9"/>
<path d="M136.83,532.05 L146.60,532.05 L146.60,528.60 L153.40,535.00 L146.60,541.40 L146.60,537.95 L136.83,537.95 Z" fill="#a6a7aa" stroke="#505050" stroke-width="1.1" stroke-linejoin="miter"/>
<path d="M104.32,535.00 L115.32,535.00 M109.82,530.20 L109.82,539.80" stroke="#0e6b35" stroke-width="2.1" fill="none"/>
<text x="53.80" y="548.93" font-size="9.7" text-anchor="end" fill="#444444" font-weight="normal" textLength="35.14" lengthAdjust="spacingAndGlyphs">29-MPM</text>
<circle cx="61.7" cy="546.13" r="3.5" fill="#29a7df"/>
<rect x="67.48" y="543.38" width="42.34" height="5.9" fill="#e5e5e5"/>
<rect x="109.82" y="543.38" width="25.19" height="5.9" fill="#a6a7aa"/>
<rect x="67.48" y="543.38" width="67.52" height="5.9" fill="none" stroke="#505050" stroke-width="1.0"/>
<line x1="109.82" y1="543.38" x2="109.82" y2="549.28" stroke="#505050" stroke-width="0.9"/>
<path d="M135.00,543.38 L144.77,543.38 L144.77,539.93 L151.57,546.33 L144.77,552.73 L144.77,549.28 L135.00,549.28 Z" fill="#a6a7aa" stroke="#505050" stroke-width="1.1" stroke-linejoin="miter"/>
<path d="M104.32,546.33 L115.32,546.33 M109.82,541.53 L109.82,551.13" stroke="#0e6b35" stroke-width="2.1" fill="none"/>
<text x="53.80" y="560.26" font-size="9.7" text-anchor="end" fill="#444444" font-weight="normal" textLength="35.14" lengthAdjust="spacingAndGlyphs">32-MPM</text>
<circle cx="61.7" cy="557.46" r="3.5" fill="#29a7df"/>
<rect x="67.48" y="554.71" width="56.59" height="5.9" fill="#e5e5e5"/>
<rect x="67.48" y="554.71" width="56.59" height="5.9" fill="none" stroke="#505050" stroke-width="1.0"/>
<path d="M124.07,554.71 L133.84,554.71 L133.84,551.26 L140.64,557.66 L133.84,564.06 L133.84,560.61 L124.07,560.61 Z" fill="#e5e5e5" stroke="#505050" stroke-width="1.1" stroke-linejoin="miter"/>
<text x="53.80" y="571.59" font-size="9.7" text-anchor="end" fill="#444444" font-weight="normal" textLength="32.39" lengthAdjust="spacingAndGlyphs">33-OVA</text>
<polygon points="16.00,563.99 16.68,565.76 18.57,565.86 17.09,567.05 17.59,568.87 16.00,567.84 14.41,568.87 14.91,567.05 13.43,565.86 15.32,565.76" fill="#d02f42"/>
<circle cx="61.7" cy="568.79" r="3.5" fill="#29a7df"/>
<rect x="67.48" y="566.04" width="15.99" height="5.9" fill="#e5e5e5"/>
<rect x="83.47" y="566.04" width="27.01" height="5.9" fill="#2ba6de"/>
<rect x="67.48" y="566.04" width="43.00" height="5.9" fill="none" stroke="#505050" stroke-width="1.0"/>
<line x1="83.47" y1="566.04" x2="83.47" y2="571.94" stroke="#505050" stroke-width="0.9"/>
<path d="M110.48,566.04 L120.25,566.04 L120.25,562.59 L127.05,568.99 L120.25,575.39 L120.25,571.94 L110.48,571.94 Z" fill="#2ba6de" stroke="#505050" stroke-width="1.1" stroke-linejoin="miter"/>
<text x="53.80" y="582.92" font-size="9.7" text-anchor="end" fill="#444444" font-weight="normal" textLength="35.14" lengthAdjust="spacingAndGlyphs">34-MPM</text>
<circle cx="61.7" cy="580.12" r="3.5" fill="#29a7df"/>
<rect x="67.48" y="577.37" width="38.53" height="5.9" fill="#e5e5e5"/>
<rect x="67.48" y="577.37" width="38.53" height="5.9" fill="none" stroke="#505050" stroke-width="1.0"/>
<path d="M106.01,577.37 L115.78,577.37 L115.78,573.92 L122.58,580.32 L115.78,586.72 L115.78,583.27 L106.01,583.27 Z" fill="#e5e5e5" stroke="#505050" stroke-width="1.1" stroke-linejoin="miter"/>
<text x="53.80" y="594.25" font-size="9.7" text-anchor="end" fill="#444444" font-weight="normal" textLength="35.14" lengthAdjust="spacingAndGlyphs">28-MPM</text>
<circle cx="61.7" cy="591.45" r="3.5" fill="#29a7df"/>
<rect x="67.48" y="588.70" width="19.30" height="5.9" fill="#e5e5e5"/>
<rect x="86.78" y="588.70" width="20.71" height="5.9" fill="#a6a7aa"/>
<rect x="67.48" y="588.70" width="40.02" height="5.9" fill="none" stroke="#505050" stroke-width="1.0"/>
<line x1="86.78" y1="588.70" x2="86.78" y2="594.60" stroke="#505050" stroke-width="0.9"/>
<path d="M82.58,587.85 L90.98,595.45 M90.98,587.85 L82.58,595.45" stroke="#e8463c" stroke-width="1.5" fill="none"/>
<text x="53.80" y="605.58" font-size="9.7" text-anchor="end" fill="#444444" font-weight="normal" textLength="34.11" lengthAdjust="spacingAndGlyphs">14-CHO</text>
<circle cx="61.7" cy="602.78" r="3.5" fill="#29a7df"/>
<rect x="67.48" y="600.03" width="15.99" height="5.9" fill="#e5e5e5"/>
<rect x="83.47" y="600.03" width="12.26" height="5.9" fill="#2ba6de"/>
<rect x="95.73" y="600.03" width="6.30" height="5.9" fill="#a6a7aa"/>
<rect x="67.48" y="600.03" width="34.55" height="5.9" fill="none" stroke="#505050" stroke-width="1.0"/>
<line x1="83.47" y1="600.03" x2="83.47" y2="605.93" stroke="#505050" stroke-width="0.9"/>
<line x1="95.73" y1="600.03" x2="95.73" y2="605.93" stroke="#505050" stroke-width="0.9"/>
<path d="M91.53,599.18 L99.93,606.78 M99.93,599.18 L91.53,606.78" stroke="#e8463c" stroke-width="1.5" fill="none"/>
<text x="53.80" y="616.91" font-size="9.7" text-anchor="end" fill="#444444" font-weight="normal" textLength="35.14" lengthAdjust="spacingAndGlyphs">16-MPM</text>
<circle cx="61.7" cy="614.11" r="3.5" fill="#29a7df"/>
<rect x="67.48" y="611.36" width="32.23" height="5.9" fill="#e5e5e5"/>
<rect x="67.48" y="611.36" width="32.23" height="5.9" fill="none" stroke="#505050" stroke-width="1.0"/>
<text x="53.80" y="628.24" font-size="9.7" text-anchor="end" fill="#444444" font-weight="normal" textLength="35.14" lengthAdjust="spacingAndGlyphs">20-MPM</text>
<circle cx="61.7" cy="625.44" r="3.5" fill="#29a7df"/>
<rect x="67.48" y="622.69" width="25.93" height="5.9" fill="#e5e5e5"/>
<rect x="93.41" y="622.69" width="6.30" height="5.9" fill="#a6a7aa"/>
<rect x="67.48" y="622.69" width="32.23" height="5.9" fill="none" stroke="#505050" stroke-width="1.0"/>
<line x1="93.41" y1="622.69" x2="93.41" y2="628.59" stroke="#505050" stroke-width="0.9"/>
<text x="53.80" y="639.57" font-size="9.7" text-anchor="end" fill="#444444" font-weight="normal" textLength="32.39" lengthAdjust="spacingAndGlyphs">23-OVA</text>
<circle cx="61.7" cy="636.77" r="3.5" fill="#29a7df"/>
<rect x="67.48" y="634.02" width="25.27" height="5.9" fill="#e5e5e5"/>
<rect x="67.48" y="634.02" width="25.27" height="5.9" fill="none" stroke="#505050" stroke-width="1.0"/>
<text x="53.80" y="650.90" font-size="9.7" text-anchor="end" fill="#444444" font-weight="normal" textLength="29.97" lengthAdjust="spacingAndGlyphs">2-MPM</text>
<circle cx="61.7" cy="648.10" r="3.5" fill="#29a7df"/>
<rect x="67.48" y="645.35" width="7.21" height="5.9" fill="#e5e5e5"/>
<rect x="74.69" y="645.35" width="9.94" height="5.9" fill="#2ba6de"/>
<rect x="67.48" y="645.35" width="17.15" height="5.9" fill="none" stroke="#505050" stroke-width="1.0"/>
<line x1="74.69" y1="645.35" x2="74.69" y2="651.25" stroke="#505050" stroke-width="0.9"/>
<text x="53.80" y="662.23" font-size="9.7" text-anchor="end" fill="#444444" font-weight="normal" textLength="35.14" lengthAdjust="spacingAndGlyphs">17-MPM</text>
<circle cx="61.7" cy="659.43" r="3.5" fill="#29a7df"/>
<rect x="67.48" y="656.68" width="17.15" height="5.9" fill="#e5e5e5"/>
<rect x="67.48" y="656.68" width="17.15" height="5.9" fill="none" stroke="#505050" stroke-width="1.0"/>
<line x1="66.90" y1="664.5" x2="564.50" y2="664.5" stroke="#8c8c8c" stroke-width="0.9"/>
<line x1="66.90" y1="664.5" x2="66.90" y2="668.8" stroke="#8c8c8c" stroke-width="0.9"/>
<text x="66.90" y="679.00" font-size="9" text-anchor="middle" fill="#444444" font-weight="normal">0</text>
<line x1="83.47" y1="664.5" x2="83.47" y2="668.8" stroke="#8c8c8c" stroke-width="0.9"/>
<text x="83.47" y="679.00" font-size="9" text-anchor="middle" fill="#444444" font-weight="normal">1</text>
<line x1="100.04" y1="664.5" x2="100.04" y2="668.8" stroke="#8c8c8c" stroke-width="0.9"/>
<text x="100.04" y="679.00" font-size="9" text-anchor="middle" fill="#444444" font-weight="normal">2</text>
<line x1="116.61" y1="664.5" x2="116.61" y2="668.8" stroke="#8c8c8c" stroke-width="0.9"/>
<text x="116.61" y="679.00" font-size="9" text-anchor="middle" fill="#444444" font-weight="normal">3</text>
<line x1="133.18" y1="664.5" x2="133.18" y2="668.8" stroke="#8c8c8c" stroke-width="0.9"/>
<text x="133.18" y="679.00" font-size="9" text-anchor="middle" fill="#444444" font-weight="normal">4</text>
<line x1="149.75" y1="664.5" x2="149.75" y2="668.8" stroke="#8c8c8c" stroke-width="0.9"/>
<text x="149.75" y="679.00" font-size="9" text-anchor="middle" fill="#444444" font-weight="normal">5</text>
<line x1="166.32" y1="664.5" x2="166.32" y2="668.8" stroke="#8c8c8c" stroke-width="0.9"/>
<text x="166.32" y="679.00" font-size="9" text-anchor="middle" fill="#444444" font-weight="normal">6</text>
<line x1="182.89" y1="664.5" x2="182.89" y2="668.8" stroke="#8c8c8c" stroke-width="0.9"/>
<text x="182.89" y="679.00" font-size="9" text-anchor="middle" fill="#444444" font-weight="normal">7</text>
<line x1="199.46" y1="664.5" x2="199.46" y2="668.8" stroke="#8c8c8c" stroke-width="0.9"/>
<text x="199.46" y="679.00" font-size="9" text-anchor="middle" fill="#444444" font-weight="normal">8</text>
<line x1="216.03" y1="664.5" x2="216.03" y2="668.8" stroke="#8c8c8c" stroke-width="0.9"/>
<text x="216.03" y="679.00" font-size="9" text-anchor="middle" fill="#444444" font-weight="normal">9</text>
<line x1="232.60" y1="664.5" x2="232.60" y2="668.8" stroke="#8c8c8c" stroke-width="0.9"/>
<text x="232.60" y="679.00" font-size="9" text-anchor="middle" fill="#444444" font-weight="normal">10</text>
<line x1="249.17" y1="664.5" x2="249.17" y2="668.8" stroke="#8c8c8c" stroke-width="0.9"/>
<text x="249.17" y="679.00" font-size="9" text-anchor="middle" fill="#444444" font-weight="normal">11</text>
<line x1="265.74" y1="664.5" x2="265.74" y2="668.8" stroke="#8c8c8c" stroke-width="0.9"/>
<text x="265.74" y="679.00" font-size="9" text-anchor="middle" fill="#444444" font-weight="normal">12</text>
<line x1="282.31" y1="664.5" x2="282.31" y2="668.8" stroke="#8c8c8c" stroke-width="0.9"/>
<text x="282.31" y="679.00" font-size="9" text-anchor="middle" fill="#444444" font-weight="normal">13</text>
<line x1="298.88" y1="664.5" x2="298.88" y2="668.8" stroke="#8c8c8c" stroke-width="0.9"/>
<text x="298.88" y="679.00" font-size="9" text-anchor="middle" fill="#444444" font-weight="normal">14</text>
<line x1="315.45" y1="664.5" x2="315.45" y2="668.8" stroke="#8c8c8c" stroke-width="0.9"/>
<text x="315.45" y="679.00" font-size="9" text-anchor="middle" fill="#444444" font-weight="normal">15</text>
<line x1="332.02" y1="664.5" x2="332.02" y2="668.8" stroke="#8c8c8c" stroke-width="0.9"/>
<text x="332.02" y="679.00" font-size="9" text-anchor="middle" fill="#444444" font-weight="normal">16</text>
<line x1="348.59" y1="664.5" x2="348.59" y2="668.8" stroke="#8c8c8c" stroke-width="0.9"/>
<text x="348.59" y="679.00" font-size="9" text-anchor="middle" fill="#444444" font-weight="normal">17</text>
<line x1="365.16" y1="664.5" x2="365.16" y2="668.8" stroke="#8c8c8c" stroke-width="0.9"/>
<text x="365.16" y="679.00" font-size="9" text-anchor="middle" fill="#444444" font-weight="normal">18</text>
<line x1="381.73" y1="664.5" x2="381.73" y2="668.8" stroke="#8c8c8c" stroke-width="0.9"/>
<text x="381.73" y="679.00" font-size="9" text-anchor="middle" fill="#444444" font-weight="normal">19</text>
<line x1="398.30" y1="664.5" x2="398.30" y2="668.8" stroke="#8c8c8c" stroke-width="0.9"/>
<text x="398.30" y="679.00" font-size="9" text-anchor="middle" fill="#444444" font-weight="normal">20</text>
<line x1="414.87" y1="664.5" x2="414.87" y2="668.8" stroke="#8c8c8c" stroke-width="0.9"/>
<text x="414.87" y="679.00" font-size="9" text-anchor="middle" fill="#444444" font-weight="normal">21</text>
<line x1="431.44" y1="664.5" x2="431.44" y2="668.8" stroke="#8c8c8c" stroke-width="0.9"/>
<text x="431.44" y="679.00" font-size="9" text-anchor="middle" fill="#444444" font-weight="normal">22</text>
<line x1="448.01" y1="664.5" x2="448.01" y2="668.8" stroke="#8c8c8c" stroke-width="0.9"/>
<text x="448.01" y="679.00" font-size="9" text-anchor="middle" fill="#444444" font-weight="normal">23</text>
<line x1="464.58" y1="664.5" x2="464.58" y2="668.8" stroke="#8c8c8c" stroke-width="0.9"/>
<text x="464.58" y="679.00" font-size="9" text-anchor="middle" fill="#444444" font-weight="normal">24</text>
<line x1="481.15" y1="664.5" x2="481.15" y2="668.8" stroke="#8c8c8c" stroke-width="0.9"/>
<text x="481.15" y="679.00" font-size="9" text-anchor="middle" fill="#444444" font-weight="normal">25</text>
<line x1="497.72" y1="664.5" x2="497.72" y2="668.8" stroke="#8c8c8c" stroke-width="0.9"/>
<text x="497.72" y="679.00" font-size="9" text-anchor="middle" fill="#444444" font-weight="normal">26</text>
<line x1="514.29" y1="664.5" x2="514.29" y2="668.8" stroke="#8c8c8c" stroke-width="0.9"/>
<text x="514.29" y="679.00" font-size="9" text-anchor="middle" fill="#444444" font-weight="normal">27</text>
<line x1="530.86" y1="664.5" x2="530.86" y2="668.8" stroke="#8c8c8c" stroke-width="0.9"/>
<text x="530.86" y="679.00" font-size="9" text-anchor="middle" fill="#444444" font-weight="normal">28</text>
<line x1="547.43" y1="664.5" x2="547.43" y2="668.8" stroke="#8c8c8c" stroke-width="0.9"/>
<text x="547.43" y="679.00" font-size="9" text-anchor="middle" fill="#444444" font-weight="normal">29</text>
<line x1="564.00" y1="664.5" x2="564.00" y2="668.8" stroke="#8c8c8c" stroke-width="0.9"/>
<text x="564.00" y="679.00" font-size="9" text-anchor="middle" fill="#444444" font-weight="normal">30</text>
<text x="315.50" y="693.30" font-size="10.3" text-anchor="middle" fill="#444444" font-weight="normal" textLength="33.2" lengthAdjust="spacingAndGlyphs">Months</text>
<text x="304.30" y="505.50" font-size="10.2" text-anchor="end" fill="#444444" font-weight="normal" textLength="80.15" lengthAdjust="spacingAndGlyphs">Lymphodepletion:</text>
<circle cx="326" cy="502.5" r="3.1" fill="#f6a83b"/>
<text x="334.30" y="505.60" font-size="10.2" text-anchor="start" fill="#444444" font-weight="normal" textLength="26.93" lengthAdjust="spacingAndGlyphs">No LD</text>
<circle cx="374.5" cy="502.5" r="3.1" fill="#29a7df"/>
<text x="383.40" y="505.60" font-size="10.2" text-anchor="start" fill="#444444" font-weight="normal" textLength="12.14" lengthAdjust="spacingAndGlyphs">LD</text>
<text x="304.30" y="522.60" font-size="10.2" text-anchor="end" fill="#444444" font-weight="normal" textLength="45.42" lengthAdjust="spacingAndGlyphs">Response:</text>
<rect x="323.6" y="515.2" width="8.6" height="8.4" fill="#e5e5e5" stroke="#505050" stroke-width="0.9"/>
<text x="337.80" y="522.60" font-size="10.2" text-anchor="start" fill="#444444" font-weight="normal" textLength="13.34" lengthAdjust="spacingAndGlyphs">SD</text>
<rect x="360.8" y="515.2" width="8.6" height="8.4" fill="#2ba6de" stroke="#505050" stroke-width="0.9"/>
<text x="374.60" y="522.60" font-size="10.2" text-anchor="start" fill="#444444" font-weight="normal" textLength="13.34" lengthAdjust="spacingAndGlyphs">PR</text>
<polygon points="399.50,517.00 400.18,518.77 402.07,518.87 400.59,520.06 401.09,521.88 399.50,520.85 397.91,521.88 398.41,520.06 396.93,518.87 398.82,518.77" fill="#d02f42"/>
<text x="409.20" y="522.60" font-size="10.2" text-anchor="start" fill="#444444" font-weight="normal" textLength="60.92" lengthAdjust="spacingAndGlyphs">Confirmed PR</text>
<path d="M324.40,537.50 L332.80,545.90 M332.80,537.50 L324.40,545.90" stroke="#e8403a" stroke-width="1.4" fill="none"/>
<text x="338.50" y="544.60" font-size="10.2" text-anchor="start" fill="#444444" font-weight="normal" textLength="13.34" lengthAdjust="spacingAndGlyphs">PD</text>
<path d="M364.70,541.70 L375.70,541.70 M370.20,536.20 L370.20,547.20" stroke="#0e6b35" stroke-width="2.1" fill="none"/>
<text x="380.70" y="538.20" font-size="10.2" text-anchor="start" fill="#444444" font-weight="normal" textLength="137.49" lengthAdjust="spacingAndGlyphs">Off active FU (unconfirmed PD)</text>
<text x="380.70" y="549.00" font-size="10.2" text-anchor="start" fill="#444444" font-weight="normal" textLength="214.45" lengthAdjust="spacingAndGlyphs">(e.g., Clinical progression/ investigator decision)</text>
<path d="M323.60,561.20 L334.80,561.20 L334.80,558.20 L341.30,564.50 L334.80,570.80 L334.80,567.80 L323.60,567.80 Z" fill="#a6a7aa" stroke="#505050" stroke-width="1"/>
<text x="346.10" y="568.00" font-size="10.3" text-anchor="start" fill="#444444" font-weight="normal" textLength="67.37" lengthAdjust="spacingAndGlyphs">Alive (ongoing)</text>
<rect x="429.3" y="560.6" width="8.6" height="8.6" fill="#a6a7aa" stroke="#505050" stroke-width="0.9"/>
<text x="443.10" y="568.00" font-size="10.3" text-anchor="start" fill="#444444" font-weight="normal" textLength="43.68" lengthAdjust="spacingAndGlyphs">Deceased</text>
<text x="0.30" y="719.80" font-size="14" text-anchor="start" fill="#000" font-weight="bold">c</text>
<text x="29.90" y="813.95" font-size="10.1" text-anchor="middle" fill="#444444" font-weight="normal" transform="rotate(-90 29.9 813.95)" textLength="119.37" lengthAdjust="spacingAndGlyphs">SMRP response (% change)</text>
<line x1="60.10" y1="724.55" x2="65.40" y2="724.55" stroke="#8c8c8c" stroke-width="0.9"/>
<text x="55.80" y="727.35" font-size="8.3" text-anchor="end" fill="#444444" font-weight="normal" textLength="14.25" lengthAdjust="spacingAndGlyphs">100</text>
<line x1="60.10" y1="742.43" x2="65.40" y2="742.43" stroke="#8c8c8c" stroke-width="0.9"/>
<text x="55.80" y="745.23" font-size="8.3" text-anchor="end" fill="#444444" font-weight="normal" textLength="9.50" lengthAdjust="spacingAndGlyphs">80</text>
<line x1="60.10" y1="760.31" x2="65.40" y2="760.31" stroke="#8c8c8c" stroke-width="0.9"/>
<text x="55.80" y="763.11" font-size="8.3" text-anchor="end" fill="#444444" font-weight="normal" textLength="9.50" lengthAdjust="spacingAndGlyphs">60</text>
<line x1="60.10" y1="778.19" x2="65.40" y2="778.19" stroke="#8c8c8c" stroke-width="0.9"/>
<text x="55.80" y="780.99" font-size="8.3" text-anchor="end" fill="#444444" font-weight="normal" textLength="9.50" lengthAdjust="spacingAndGlyphs">40</text>
<line x1="60.10" y1="796.07" x2="65.40" y2="796.07" stroke="#8c8c8c" stroke-width="0.9"/>
<text x="55.80" y="798.87" font-size="8.3" text-anchor="end" fill="#444444" font-weight="normal" textLength="9.50" lengthAdjust="spacingAndGlyphs">20</text>
<line x1="60.10" y1="813.95" x2="65.40" y2="813.95" stroke="#8c8c8c" stroke-width="0.9"/>
<text x="55.80" y="816.75" font-size="8.3" text-anchor="end" fill="#444444" font-weight="normal" textLength="4.75" lengthAdjust="spacingAndGlyphs">0</text>
<line x1="60.10" y1="831.83" x2="65.40" y2="831.83" stroke="#8c8c8c" stroke-width="0.9"/>
<text x="55.80" y="834.63" font-size="8.3" text-anchor="end" fill="#444444" font-weight="normal" textLength="13.50" lengthAdjust="spacingAndGlyphs">&#8722;20</text>
<line x1="60.10" y1="849.71" x2="65.40" y2="849.71" stroke="#8c8c8c" stroke-width="0.9"/>
<text x="55.80" y="852.51" font-size="8.3" text-anchor="end" fill="#444444" font-weight="normal" textLength="13.50" lengthAdjust="spacingAndGlyphs">&#8722;40</text>
<line x1="60.10" y1="867.59" x2="65.40" y2="867.59" stroke="#8c8c8c" stroke-width="0.9"/>
<text x="55.80" y="870.39" font-size="8.3" text-anchor="end" fill="#444444" font-weight="normal" textLength="13.50" lengthAdjust="spacingAndGlyphs">&#8722;60</text>
<line x1="60.10" y1="885.47" x2="65.40" y2="885.47" stroke="#8c8c8c" stroke-width="0.9"/>
<text x="55.80" y="888.27" font-size="8.3" text-anchor="end" fill="#444444" font-weight="normal" textLength="13.50" lengthAdjust="spacingAndGlyphs">&#8722;80</text>
<line x1="60.10" y1="903.35" x2="65.40" y2="903.35" stroke="#8c8c8c" stroke-width="0.9"/>
<text x="55.80" y="906.15" font-size="8.3" text-anchor="end" fill="#444444" font-weight="normal" textLength="18.25" lengthAdjust="spacingAndGlyphs">&#8722;100</text>
<line x1="65.40" y1="724.55" x2="65.40" y2="903.75" stroke="#8c8c8c" stroke-width="0.9"/>
<rect x="67.90" y="806.80" width="7.2" height="7.15" fill="#2dbfd5"/>
<text x="74.40" y="923.00" font-size="8.3" text-anchor="end" fill="#444444" font-weight="normal" transform="rotate(-90 74.4 923.0)" textLength="9.50" lengthAdjust="spacingAndGlyphs">20</text>
<rect x="80.45" y="813.95" width="7.2" height="1.34" fill="#2dbfd5"/>
<text x="86.95" y="923.00" font-size="8.3" text-anchor="end" fill="#444444" font-weight="normal" transform="rotate(-90 86.95 923.0)" textLength="4.75" lengthAdjust="spacingAndGlyphs">8</text>
<rect x="93.00" y="813.95" width="7.2" height="3.58" fill="#2dbfd5"/>
<text x="99.50" y="923.00" font-size="8.3" text-anchor="end" fill="#444444" font-weight="normal" transform="rotate(-90 99.5 923.0)" textLength="4.75" lengthAdjust="spacingAndGlyphs">6</text>
<rect x="105.55" y="813.95" width="7.2" height="5.36" fill="#2dbfd5"/>
<text x="112.05" y="923.00" font-size="8.3" text-anchor="end" fill="#444444" font-weight="normal" transform="rotate(-90 112.05000000000001 923.0)" textLength="9.50" lengthAdjust="spacingAndGlyphs">29</text>
<rect x="118.10" y="813.95" width="7.2" height="7.15" fill="#2dbfd5"/>
<text x="124.60" y="923.00" font-size="8.3" text-anchor="end" fill="#444444" font-weight="normal" transform="rotate(-90 124.60000000000001 923.0)" textLength="9.50" lengthAdjust="spacingAndGlyphs">30</text>
<rect x="130.65" y="813.95" width="7.2" height="14.30" fill="#2dbfd5"/>
<text x="137.15" y="923.00" font-size="8.3" text-anchor="end" fill="#444444" font-weight="normal" transform="rotate(-90 137.15 923.0)" textLength="4.75" lengthAdjust="spacingAndGlyphs">1</text>
<rect x="143.20" y="813.95" width="7.2" height="24.14" fill="#2dbfd5"/>
<text x="149.70" y="923.00" font-size="8.3" text-anchor="end" fill="#444444" font-weight="normal" transform="rotate(-90 149.70000000000002 923.0)" textLength="9.50" lengthAdjust="spacingAndGlyphs">27</text>
<rect x="155.75" y="813.95" width="7.2" height="24.14" fill="#2dbfd5"/>
<text x="162.25" y="923.00" font-size="8.3" text-anchor="end" fill="#444444" font-weight="normal" transform="rotate(-90 162.25 923.0)" textLength="9.50" lengthAdjust="spacingAndGlyphs">19</text>
<rect x="168.30" y="813.95" width="7.2" height="25.93" fill="#2dbfd5"/>
<text x="174.80" y="923.00" font-size="8.3" text-anchor="end" fill="#444444" font-weight="normal" transform="rotate(-90 174.8 923.0)" textLength="4.75" lengthAdjust="spacingAndGlyphs">9</text>
<rect x="180.85" y="813.95" width="7.2" height="28.61" fill="#2dbfd5"/>
<text x="187.35" y="923.00" font-size="8.3" text-anchor="end" fill="#444444" font-weight="normal" transform="rotate(-90 187.35000000000002 923.0)" textLength="9.50" lengthAdjust="spacingAndGlyphs">32</text>
<rect x="193.40" y="813.95" width="7.2" height="33.97" fill="#2dbfd5"/>
<text x="199.90" y="923.00" font-size="8.3" text-anchor="end" fill="#444444" font-weight="normal" transform="rotate(-90 199.9 923.0)" textLength="9.50" lengthAdjust="spacingAndGlyphs">11</text>
<rect x="205.95" y="813.95" width="7.2" height="42.02" fill="#1b7b9b"/>
<text x="212.45" y="923.00" font-size="8.3" text-anchor="end" fill="#444444" font-weight="normal" transform="rotate(-90 212.45000000000002 923.0)" textLength="9.50" lengthAdjust="spacingAndGlyphs">22</text>
<rect x="218.50" y="813.95" width="7.2" height="42.02" fill="#1b7b9b"/>
<text x="225.00" y="923.00" font-size="8.3" text-anchor="end" fill="#444444" font-weight="normal" transform="rotate(-90 225.00000000000003 923.0)" textLength="9.50" lengthAdjust="spacingAndGlyphs">33</text>
<rect x="231.05" y="813.95" width="7.2" height="50.06" fill="#1b7b9b"/>
<text x="237.55" y="923.00" font-size="8.3" text-anchor="end" fill="#444444" font-weight="normal" transform="rotate(-90 237.55 923.0)" textLength="4.75" lengthAdjust="spacingAndGlyphs">3</text>
<rect x="243.60" y="813.95" width="7.2" height="50.06" fill="#2dbfd5"/>
<text x="250.10" y="923.00" font-size="8.3" text-anchor="end" fill="#444444" font-weight="normal" transform="rotate(-90 250.10000000000002 923.0)" textLength="9.50" lengthAdjust="spacingAndGlyphs">21</text>
<rect x="256.15" y="813.95" width="7.2" height="52.75" fill="#2dbfd5"/>
<text x="262.65" y="923.00" font-size="8.3" text-anchor="end" fill="#444444" font-weight="normal" transform="rotate(-90 262.65 923.0)" textLength="9.50" lengthAdjust="spacingAndGlyphs">10</text>
<rect x="268.70" y="813.95" width="7.2" height="56.32" fill="#2dbfd5"/>
<text x="275.20" y="923.00" font-size="8.3" text-anchor="end" fill="#444444" font-weight="normal" transform="rotate(-90 275.20000000000005 923.0)" textLength="4.75" lengthAdjust="spacingAndGlyphs">7</text>
<rect x="281.25" y="813.95" width="7.2" height="57.22" fill="#1b7b9b"/>
<text x="287.75" y="923.00" font-size="8.3" text-anchor="end" fill="#444444" font-weight="normal" transform="rotate(-90 287.75 923.0)" textLength="4.75" lengthAdjust="spacingAndGlyphs">2</text>
<rect x="293.80" y="813.95" width="7.2" height="57.22" fill="#2dbfd5"/>
<text x="300.30" y="923.00" font-size="8.3" text-anchor="end" fill="#444444" font-weight="normal" transform="rotate(-90 300.3 923.0)" textLength="9.50" lengthAdjust="spacingAndGlyphs">30</text>
<rect x="306.35" y="813.95" width="7.2" height="72.41" fill="#2dbfd5"/>
<text x="312.85" y="923.00" font-size="8.3" text-anchor="end" fill="#444444" font-weight="normal" transform="rotate(-90 312.85 923.0)" textLength="9.50" lengthAdjust="spacingAndGlyphs">16</text>
<rect x="318.90" y="813.95" width="7.2" height="81.35" fill="#1b7b9b"/>
<text x="325.40" y="923.00" font-size="8.3" text-anchor="end" fill="#444444" font-weight="normal" transform="rotate(-90 325.4 923.0)" textLength="4.75" lengthAdjust="spacingAndGlyphs">4</text>
<rect x="331.45" y="813.95" width="7.2" height="87.61" fill="#1b7b9b"/>
<text x="337.95" y="923.00" font-size="8.3" text-anchor="end" fill="#444444" font-weight="normal" transform="rotate(-90 337.95000000000005 923.0)" textLength="9.50" lengthAdjust="spacingAndGlyphs">15</text>
<line x1="65.40" y1="813.95" x2="340.40" y2="813.95" stroke="#c9c9c9" stroke-width="1"/>
<text x="203.20" y="947.90" font-size="10.3" text-anchor="middle" fill="#444444" font-weight="normal" textLength="68.2" lengthAdjust="spacingAndGlyphs">Patient number</text>
<rect x="252.20" y="778.40" width="7.6" height="7.6" fill="#1b7b9b"/>
<text x="265.00" y="785.40" font-size="10.2" text-anchor="start" fill="#444444" font-weight="normal" textLength="51.98" lengthAdjust="spacingAndGlyphs">Responders</text>
<rect x="252.20" y="794.50" width="7.6" height="7.6" fill="#2dbfd5"/>
<text x="265.00" y="801.00" font-size="10.2" text-anchor="start" fill="#444444" font-weight="normal" textLength="70.99" lengthAdjust="spacingAndGlyphs">Non-responders</text>
<text x="355.50" y="719.80" font-size="14" text-anchor="start" fill="#000" font-weight="bold">d</text>
<text x="372.60" y="815.50" font-size="10.1" text-anchor="middle" fill="#444444" font-weight="normal" transform="rotate(-90 372.6 815.5)" textLength="113.47" lengthAdjust="spacingAndGlyphs">MPF response (% change)</text>
<line x1="403.40" y1="725.65" x2="408.70" y2="725.65" stroke="#8c8c8c" stroke-width="0.9"/>
<text x="399.10" y="728.45" font-size="8.3" text-anchor="end" fill="#444444" font-weight="normal" textLength="14.25" lengthAdjust="spacingAndGlyphs">100</text>
<line x1="403.40" y1="743.85" x2="408.70" y2="743.85" stroke="#8c8c8c" stroke-width="0.9"/>
<text x="399.10" y="746.65" font-size="8.3" text-anchor="end" fill="#444444" font-weight="normal" textLength="9.50" lengthAdjust="spacingAndGlyphs">80</text>
<line x1="403.40" y1="762.05" x2="408.70" y2="762.05" stroke="#8c8c8c" stroke-width="0.9"/>
<text x="399.10" y="764.85" font-size="8.3" text-anchor="end" fill="#444444" font-weight="normal" textLength="9.50" lengthAdjust="spacingAndGlyphs">60</text>
<line x1="403.40" y1="780.25" x2="408.70" y2="780.25" stroke="#8c8c8c" stroke-width="0.9"/>
<text x="399.10" y="783.05" font-size="8.3" text-anchor="end" fill="#444444" font-weight="normal" textLength="9.50" lengthAdjust="spacingAndGlyphs">40</text>
<line x1="403.40" y1="798.45" x2="408.70" y2="798.45" stroke="#8c8c8c" stroke-width="0.9"/>
<text x="399.10" y="801.25" font-size="8.3" text-anchor="end" fill="#444444" font-weight="normal" textLength="9.50" lengthAdjust="spacingAndGlyphs">20</text>
<line x1="403.40" y1="816.65" x2="408.70" y2="816.65" stroke="#8c8c8c" stroke-width="0.9"/>
<text x="399.10" y="819.45" font-size="8.3" text-anchor="end" fill="#444444" font-weight="normal" textLength="4.75" lengthAdjust="spacingAndGlyphs">0</text>
<line x1="403.40" y1="834.85" x2="408.70" y2="834.85" stroke="#8c8c8c" stroke-width="0.9"/>
<text x="399.10" y="837.65" font-size="8.3" text-anchor="end" fill="#444444" font-weight="normal" textLength="13.50" lengthAdjust="spacingAndGlyphs">&#8722;20</text>
<line x1="403.40" y1="853.05" x2="408.70" y2="853.05" stroke="#8c8c8c" stroke-width="0.9"/>
<text x="399.10" y="855.85" font-size="8.3" text-anchor="end" fill="#444444" font-weight="normal" textLength="13.50" lengthAdjust="spacingAndGlyphs">&#8722;40</text>
<line x1="403.40" y1="871.25" x2="408.70" y2="871.25" stroke="#8c8c8c" stroke-width="0.9"/>
<text x="399.10" y="874.05" font-size="8.3" text-anchor="end" fill="#444444" font-weight="normal" textLength="13.50" lengthAdjust="spacingAndGlyphs">&#8722;60</text>
<line x1="403.40" y1="889.45" x2="408.70" y2="889.45" stroke="#8c8c8c" stroke-width="0.9"/>
<text x="399.10" y="892.25" font-size="8.3" text-anchor="end" fill="#444444" font-weight="normal" textLength="13.50" lengthAdjust="spacingAndGlyphs">&#8722;80</text>
<line x1="403.40" y1="907.65" x2="408.70" y2="907.65" stroke="#8c8c8c" stroke-width="0.9"/>
<text x="399.10" y="910.45" font-size="8.3" text-anchor="end" fill="#444444" font-weight="normal" textLength="18.25" lengthAdjust="spacingAndGlyphs">&#8722;100</text>
<line x1="408.70" y1="725.65" x2="408.70" y2="908.05" stroke="#8c8c8c" stroke-width="0.9"/>
<rect x="409.60" y="745.67" width="7.2" height="70.98" fill="#2dbfd5"/>
<text x="416.10" y="923.00" font-size="8.3" text-anchor="end" fill="#444444" font-weight="normal" transform="rotate(-90 416.1 923.0)" textLength="9.50" lengthAdjust="spacingAndGlyphs">29</text>
<rect x="419.43" y="816.65" width="7.2" height="2.73" fill="#2dbfd5"/>
<text x="425.93" y="923.00" font-size="8.3" text-anchor="end" fill="#444444" font-weight="normal" transform="rotate(-90 425.93 923.0)" textLength="9.50" lengthAdjust="spacingAndGlyphs">20</text>
<rect x="429.26" y="816.65" width="7.2" height="9.10" fill="#2dbfd5"/>
<text x="435.76" y="923.00" font-size="8.3" text-anchor="end" fill="#444444" font-weight="normal" transform="rotate(-90 435.76000000000005 923.0)" textLength="4.75" lengthAdjust="spacingAndGlyphs">1</text>
<rect x="439.09" y="816.65" width="7.2" height="12.74" fill="#2dbfd5"/>
<text x="445.59" y="923.00" font-size="8.3" text-anchor="end" fill="#444444" font-weight="normal" transform="rotate(-90 445.59000000000003 923.0)" textLength="4.75" lengthAdjust="spacingAndGlyphs">8</text>
<rect x="448.92" y="816.65" width="7.2" height="13.65" fill="#2dbfd5"/>
<text x="455.42" y="923.00" font-size="8.3" text-anchor="end" fill="#444444" font-weight="normal" transform="rotate(-90 455.42 923.0)" textLength="4.75" lengthAdjust="spacingAndGlyphs">3</text>
<rect x="458.75" y="816.65" width="7.2" height="15.47" fill="#1b7b9b"/>
<text x="465.25" y="923.00" font-size="8.3" text-anchor="end" fill="#444444" font-weight="normal" transform="rotate(-90 465.25 923.0)" textLength="4.75" lengthAdjust="spacingAndGlyphs">5</text>
<rect x="468.58" y="816.65" width="7.2" height="15.47" fill="#2dbfd5"/>
<text x="475.08" y="923.00" font-size="8.3" text-anchor="end" fill="#444444" font-weight="normal" transform="rotate(-90 475.08000000000004 923.0)" textLength="9.50" lengthAdjust="spacingAndGlyphs">31</text>
<rect x="478.41" y="816.65" width="7.2" height="18.20" fill="#2dbfd5"/>
<text x="484.91" y="923.00" font-size="8.3" text-anchor="end" fill="#444444" font-weight="normal" transform="rotate(-90 484.91 923.0)" textLength="4.75" lengthAdjust="spacingAndGlyphs">9</text>
<rect x="488.24" y="816.65" width="7.2" height="30.94" fill="#2dbfd5"/>
<text x="494.74" y="923.00" font-size="8.3" text-anchor="end" fill="#444444" font-weight="normal" transform="rotate(-90 494.74 923.0)" textLength="4.75" lengthAdjust="spacingAndGlyphs">6</text>
<rect x="498.07" y="816.65" width="7.2" height="35.49" fill="#2dbfd5"/>
<text x="504.57" y="923.00" font-size="8.3" text-anchor="end" fill="#444444" font-weight="normal" transform="rotate(-90 504.57000000000005 923.0)" textLength="9.50" lengthAdjust="spacingAndGlyphs">25</text>
<rect x="507.90" y="816.65" width="7.2" height="35.49" fill="#2dbfd5"/>
<text x="514.40" y="923.00" font-size="8.3" text-anchor="end" fill="#444444" font-weight="normal" transform="rotate(-90 514.4000000000001 923.0)" textLength="9.50" lengthAdjust="spacingAndGlyphs">12</text>
<rect x="517.73" y="816.65" width="7.2" height="41.86" fill="#2dbfd5"/>
<text x="524.23" y="923.00" font-size="8.3" text-anchor="end" fill="#444444" font-weight="normal" transform="rotate(-90 524.23 923.0)" textLength="9.50" lengthAdjust="spacingAndGlyphs">27</text>
<rect x="527.56" y="816.65" width="7.2" height="45.50" fill="#1b7b9b"/>
<text x="534.06" y="923.00" font-size="8.3" text-anchor="end" fill="#444444" font-weight="normal" transform="rotate(-90 534.0600000000001 923.0)" textLength="9.50" lengthAdjust="spacingAndGlyphs">33</text>
<rect x="537.39" y="816.65" width="7.2" height="49.14" fill="#2dbfd5"/>
<text x="543.89" y="923.00" font-size="8.3" text-anchor="end" fill="#444444" font-weight="normal" transform="rotate(-90 543.89 923.0)" textLength="9.50" lengthAdjust="spacingAndGlyphs">11</text>
<rect x="547.22" y="816.65" width="7.2" height="50.96" fill="#2dbfd5"/>
<text x="553.72" y="923.00" font-size="8.3" text-anchor="end" fill="#444444" font-weight="normal" transform="rotate(-90 553.72 923.0)" textLength="9.50" lengthAdjust="spacingAndGlyphs">30</text>
<rect x="557.05" y="816.65" width="7.2" height="51.87" fill="#2dbfd5"/>
<text x="563.55" y="923.00" font-size="8.3" text-anchor="end" fill="#444444" font-weight="normal" transform="rotate(-90 563.55 923.0)" textLength="9.50" lengthAdjust="spacingAndGlyphs">19</text>
<rect x="566.88" y="816.65" width="7.2" height="52.78" fill="#2dbfd5"/>
<text x="573.38" y="923.00" font-size="8.3" text-anchor="end" fill="#444444" font-weight="normal" transform="rotate(-90 573.38 923.0)" textLength="9.50" lengthAdjust="spacingAndGlyphs">10</text>
<rect x="576.71" y="816.65" width="7.2" height="61.88" fill="#2dbfd5"/>
<text x="583.21" y="923.00" font-size="8.3" text-anchor="end" fill="#444444" font-weight="normal" transform="rotate(-90 583.21 923.0)" textLength="9.50" lengthAdjust="spacingAndGlyphs">13</text>
<rect x="586.54" y="816.65" width="7.2" height="64.61" fill="#2dbfd5"/>
<text x="593.04" y="923.00" font-size="8.3" text-anchor="end" fill="#444444" font-weight="normal" transform="rotate(-90 593.04 923.0)" textLength="9.50" lengthAdjust="spacingAndGlyphs">32</text>
<rect x="596.37" y="816.65" width="7.2" height="69.16" fill="#2dbfd5"/>
<text x="602.87" y="923.00" font-size="8.3" text-anchor="end" fill="#444444" font-weight="normal" transform="rotate(-90 602.87 923.0)" textLength="9.50" lengthAdjust="spacingAndGlyphs">18</text>
<rect x="606.20" y="816.65" width="7.2" height="77.35" fill="#2dbfd5"/>
<text x="612.70" y="923.00" font-size="8.3" text-anchor="end" fill="#444444" font-weight="normal" transform="rotate(-90 612.7 923.0)" textLength="9.50" lengthAdjust="spacingAndGlyphs">14</text>
<rect x="616.03" y="816.65" width="7.2" height="79.17" fill="#1b7b9b"/>
<text x="622.53" y="923.00" font-size="8.3" text-anchor="end" fill="#444444" font-weight="normal" transform="rotate(-90 622.53 923.0)" textLength="4.75" lengthAdjust="spacingAndGlyphs">4</text>
<rect x="625.86" y="816.65" width="7.2" height="80.08" fill="#2dbfd5"/>
<text x="632.36" y="923.00" font-size="8.3" text-anchor="end" fill="#444444" font-weight="normal" transform="rotate(-90 632.36 923.0)" textLength="4.75" lengthAdjust="spacingAndGlyphs">7</text>
<rect x="635.69" y="816.65" width="7.2" height="82.81" fill="#1b7b9b"/>
<text x="642.19" y="923.00" font-size="8.3" text-anchor="end" fill="#444444" font-weight="normal" transform="rotate(-90 642.19 923.0)" textLength="9.50" lengthAdjust="spacingAndGlyphs">22</text>
<rect x="645.52" y="816.65" width="7.2" height="83.72" fill="#2dbfd5"/>
<text x="652.02" y="923.00" font-size="8.3" text-anchor="end" fill="#444444" font-weight="normal" transform="rotate(-90 652.02 923.0)" textLength="9.50" lengthAdjust="spacingAndGlyphs">21</text>
<rect x="655.35" y="816.65" width="7.2" height="83.72" fill="#1b7b9b"/>
<text x="661.85" y="923.00" font-size="8.3" text-anchor="end" fill="#444444" font-weight="normal" transform="rotate(-90 661.85 923.0)" textLength="4.75" lengthAdjust="spacingAndGlyphs">2</text>
<rect x="665.18" y="816.65" width="7.2" height="85.54" fill="#2dbfd5"/>
<text x="671.68" y="923.00" font-size="8.3" text-anchor="end" fill="#444444" font-weight="normal" transform="rotate(-90 671.6800000000001 923.0)" textLength="9.50" lengthAdjust="spacingAndGlyphs">16</text>
<rect x="675.01" y="816.65" width="7.2" height="90.09" fill="#1b7b9b"/>
<text x="681.51" y="923.00" font-size="8.3" text-anchor="end" fill="#444444" font-weight="normal" transform="rotate(-90 681.51 923.0)" textLength="9.50" lengthAdjust="spacingAndGlyphs">15</text>
<line x1="408.70" y1="816.65" x2="685.00" y2="816.65" stroke="#c9c9c9" stroke-width="1"/>
<text x="546.60" y="947.90" font-size="10.3" text-anchor="middle" fill="#444444" font-weight="normal" textLength="68.2" lengthAdjust="spacingAndGlyphs">Patient number</text>
<rect x="590.40" y="782.40" width="7.6" height="7.6" fill="#1b7b9b"/>
<text x="603.20" y="789.40" font-size="10.2" text-anchor="start" fill="#444444" font-weight="normal" textLength="51.98" lengthAdjust="spacingAndGlyphs">Responders</text>
<rect x="590.40" y="798.50" width="7.6" height="7.6" fill="#2dbfd5"/>
<text x="603.20" y="805.00" font-size="10.2" text-anchor="start" fill="#444444" font-weight="normal" textLength="70.99" lengthAdjust="spacingAndGlyphs">Non-responders</text>
</svg>
</body></html>
